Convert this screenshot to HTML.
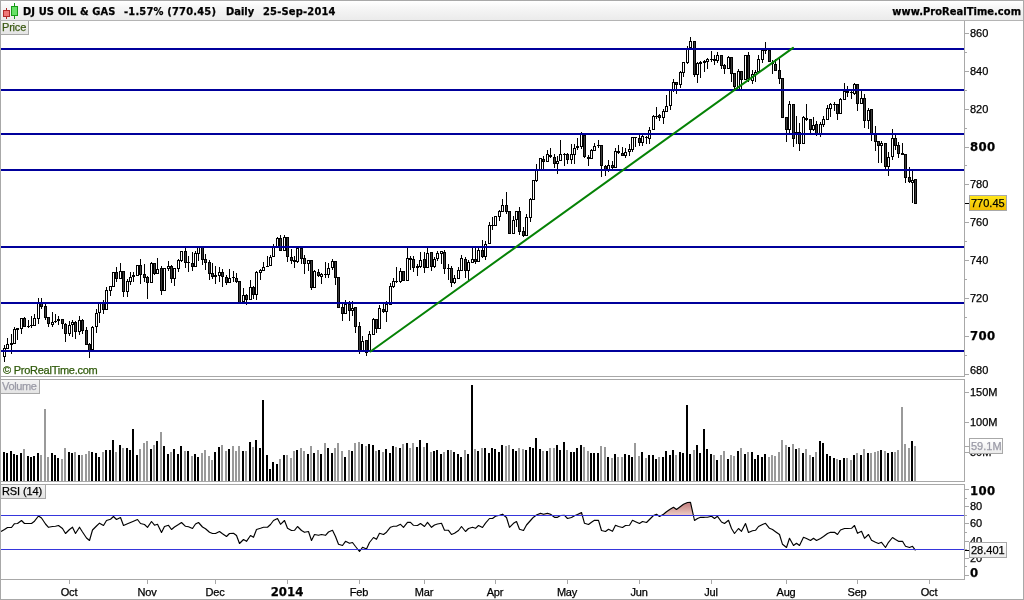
<!DOCTYPE html>
<html><head><meta charset="utf-8"><title>DJ US OIL &amp; GAS</title>
<style>
html,body{margin:0;padding:0;background:#fff;}
body{width:1024px;height:600px;position:relative;overflow:hidden;font-family:"Liberation Sans",sans-serif;font-size:11px;color:#000;-webkit-text-stroke:0.25px currentColor;}
#hdr{position:absolute;left:1px;top:1px;width:1022px;height:19px;background:linear-gradient(#ffffff,#f6f6f6 35%,#ebebeb);}
svg{position:absolute;left:0;top:0;}
.t{position:absolute;white-space:nowrap;line-height:14px;height:14px;}
.b{font-family:"DejaVu Sans Condensed","Liberation Sans",sans-serif;font-weight:bold;font-size:11px;}
.B{font-family:"DejaVu Sans Condensed","Liberation Sans",sans-serif;font-weight:bold;font-size:13px;letter-spacing:0.4px;line-height:16px;height:16px;}
.lab{position:absolute;background:linear-gradient(#f4f4f4,#e4e4e4);border-right:1px solid #a8a8a8;border-bottom:1px solid #a8a8a8;line-height:13px;padding-left:1px;box-sizing:content-box;white-space:nowrap;}
.box{position:absolute;border:1px solid #a8a8a8;line-height:14px;padding-left:1px;white-space:nowrap;}
</style></head><body>
<div id="hdr"></div>
<svg width="1024" height="600" viewBox="0 0 1024 600">
<g shape-rendering="crispEdges">
<rect x="4" y="345" width="1" height="17" fill="#000"/>
<rect x="3" y="348" width="3" height="9" fill="#000"/>
<rect x="4" y="349" width="1" height="7" fill="#fff"/>
<rect x="7" y="338" width="1" height="11" fill="#000"/>
<rect x="6" y="344" width="3" height="5" fill="#000"/>
<rect x="7" y="345" width="1" height="3" fill="#fff"/>
<rect x="11" y="334" width="1" height="20" fill="#000"/>
<rect x="10" y="343" width="3" height="2" fill="#000"/>
<rect x="14" y="327" width="1" height="17" fill="#000"/>
<rect x="13" y="329" width="3" height="15" fill="#000"/>
<rect x="14" y="330" width="1" height="13" fill="#fff"/>
<rect x="17" y="328" width="1" height="12" fill="#000"/>
<rect x="16" y="328" width="3" height="2" fill="#000"/>
<rect x="21" y="318" width="1" height="16" fill="#000"/>
<rect x="20" y="318" width="3" height="11" fill="#000"/>
<rect x="21" y="319" width="1" height="9" fill="#fff"/>
<rect x="24" y="317" width="1" height="10" fill="#000"/>
<rect x="23" y="318" width="3" height="9" fill="#000"/>
<rect x="24" y="319" width="1" height="7" fill="#3c3c3c"/>
<rect x="28" y="320" width="1" height="8" fill="#000"/>
<rect x="27" y="326" width="3" height="1" fill="#000"/>
<rect x="31" y="316" width="1" height="12" fill="#000"/>
<rect x="30" y="325" width="3" height="1" fill="#000"/>
<rect x="34" y="314" width="1" height="12" fill="#000"/>
<rect x="33" y="318" width="3" height="8" fill="#000"/>
<rect x="34" y="319" width="1" height="6" fill="#fff"/>
<rect x="38" y="298" width="1" height="26" fill="#000"/>
<rect x="37" y="302" width="3" height="17" fill="#000"/>
<rect x="38" y="303" width="1" height="15" fill="#fff"/>
<rect x="41" y="298" width="1" height="11" fill="#000"/>
<rect x="40" y="302" width="3" height="5" fill="#000"/>
<rect x="41" y="303" width="1" height="3" fill="#3c3c3c"/>
<rect x="45" y="304" width="1" height="16" fill="#000"/>
<rect x="44" y="306" width="3" height="12" fill="#000"/>
<rect x="45" y="307" width="1" height="10" fill="#3c3c3c"/>
<rect x="48" y="317" width="1" height="10" fill="#000"/>
<rect x="47" y="317" width="3" height="7" fill="#000"/>
<rect x="48" y="318" width="1" height="5" fill="#3c3c3c"/>
<rect x="52" y="312" width="1" height="15" fill="#000"/>
<rect x="51" y="322" width="3" height="3" fill="#000"/>
<rect x="52" y="323" width="1" height="1" fill="#fff"/>
<rect x="55" y="314" width="1" height="9" fill="#000"/>
<rect x="54" y="321" width="3" height="1" fill="#000"/>
<rect x="58" y="316" width="1" height="9" fill="#000"/>
<rect x="57" y="319" width="3" height="2" fill="#000"/>
<rect x="62" y="319" width="1" height="10" fill="#000"/>
<rect x="61" y="319" width="3" height="5" fill="#000"/>
<rect x="62" y="320" width="1" height="3" fill="#3c3c3c"/>
<rect x="65" y="323" width="1" height="19" fill="#000"/>
<rect x="64" y="324" width="3" height="10" fill="#000"/>
<rect x="65" y="325" width="1" height="8" fill="#3c3c3c"/>
<rect x="69" y="321" width="1" height="15" fill="#000"/>
<rect x="68" y="325" width="3" height="9" fill="#000"/>
<rect x="69" y="326" width="1" height="7" fill="#fff"/>
<rect x="72" y="320" width="1" height="17" fill="#000"/>
<rect x="71" y="322" width="3" height="3" fill="#000"/>
<rect x="72" y="323" width="1" height="1" fill="#fff"/>
<rect x="75" y="321" width="1" height="18" fill="#000"/>
<rect x="74" y="322" width="3" height="10" fill="#000"/>
<rect x="75" y="323" width="1" height="8" fill="#3c3c3c"/>
<rect x="79" y="316" width="1" height="19" fill="#000"/>
<rect x="78" y="320" width="3" height="12" fill="#000"/>
<rect x="79" y="321" width="1" height="10" fill="#fff"/>
<rect x="82" y="319" width="1" height="15" fill="#000"/>
<rect x="81" y="320" width="3" height="11" fill="#000"/>
<rect x="82" y="321" width="1" height="9" fill="#3c3c3c"/>
<rect x="86" y="327" width="1" height="18" fill="#000"/>
<rect x="85" y="330" width="3" height="15" fill="#000"/>
<rect x="86" y="331" width="1" height="13" fill="#3c3c3c"/>
<rect x="89" y="343" width="1" height="15" fill="#000"/>
<rect x="88" y="344" width="3" height="7" fill="#000"/>
<rect x="89" y="345" width="1" height="5" fill="#3c3c3c"/>
<rect x="92" y="326" width="1" height="24" fill="#000"/>
<rect x="91" y="327" width="3" height="23" fill="#000"/>
<rect x="92" y="328" width="1" height="21" fill="#fff"/>
<rect x="96" y="309" width="1" height="24" fill="#000"/>
<rect x="95" y="313" width="3" height="14" fill="#000"/>
<rect x="96" y="314" width="1" height="12" fill="#fff"/>
<rect x="99" y="302" width="1" height="21" fill="#000"/>
<rect x="98" y="302" width="3" height="11" fill="#000"/>
<rect x="99" y="303" width="1" height="9" fill="#fff"/>
<rect x="103" y="300" width="1" height="14" fill="#000"/>
<rect x="102" y="303" width="3" height="7" fill="#000"/>
<rect x="103" y="304" width="1" height="5" fill="#3c3c3c"/>
<rect x="106" y="287" width="1" height="23" fill="#000"/>
<rect x="105" y="290" width="3" height="20" fill="#000"/>
<rect x="106" y="291" width="1" height="18" fill="#fff"/>
<rect x="110" y="286" width="1" height="10" fill="#000"/>
<rect x="109" y="286" width="3" height="5" fill="#000"/>
<rect x="110" y="287" width="1" height="3" fill="#fff"/>
<rect x="113" y="272" width="1" height="15" fill="#000"/>
<rect x="112" y="272" width="3" height="15" fill="#000"/>
<rect x="113" y="273" width="1" height="13" fill="#fff"/>
<rect x="116" y="267" width="1" height="15" fill="#000"/>
<rect x="115" y="272" width="3" height="7" fill="#000"/>
<rect x="116" y="273" width="1" height="5" fill="#3c3c3c"/>
<rect x="120" y="263" width="1" height="16" fill="#000"/>
<rect x="119" y="271" width="3" height="8" fill="#000"/>
<rect x="120" y="272" width="1" height="6" fill="#fff"/>
<rect x="123" y="271" width="1" height="26" fill="#000"/>
<rect x="122" y="271" width="3" height="21" fill="#000"/>
<rect x="123" y="272" width="1" height="19" fill="#3c3c3c"/>
<rect x="127" y="279" width="1" height="18" fill="#000"/>
<rect x="126" y="281" width="3" height="11" fill="#000"/>
<rect x="127" y="282" width="1" height="9" fill="#fff"/>
<rect x="130" y="272" width="1" height="13" fill="#000"/>
<rect x="129" y="277" width="3" height="5" fill="#000"/>
<rect x="130" y="278" width="1" height="3" fill="#fff"/>
<rect x="133" y="272" width="1" height="10" fill="#000"/>
<rect x="132" y="275" width="3" height="2" fill="#000"/>
<rect x="137" y="265" width="1" height="11" fill="#000"/>
<rect x="136" y="265" width="3" height="11" fill="#000"/>
<rect x="137" y="266" width="1" height="9" fill="#fff"/>
<rect x="140" y="259" width="1" height="25" fill="#000"/>
<rect x="139" y="265" width="3" height="10" fill="#000"/>
<rect x="140" y="266" width="1" height="8" fill="#3c3c3c"/>
<rect x="144" y="264" width="1" height="18" fill="#000"/>
<rect x="143" y="274" width="3" height="4" fill="#000"/>
<rect x="144" y="275" width="1" height="2" fill="#3c3c3c"/>
<rect x="147" y="276" width="1" height="23" fill="#000"/>
<rect x="146" y="277" width="3" height="6" fill="#000"/>
<rect x="147" y="278" width="1" height="4" fill="#3c3c3c"/>
<rect x="151" y="262" width="1" height="21" fill="#000"/>
<rect x="150" y="263" width="3" height="20" fill="#000"/>
<rect x="151" y="264" width="1" height="18" fill="#fff"/>
<rect x="154" y="263" width="1" height="12" fill="#000"/>
<rect x="153" y="263" width="3" height="11" fill="#000"/>
<rect x="154" y="264" width="1" height="9" fill="#3c3c3c"/>
<rect x="157" y="258" width="1" height="16" fill="#000"/>
<rect x="156" y="269" width="3" height="5" fill="#000"/>
<rect x="157" y="270" width="1" height="3" fill="#fff"/>
<rect x="161" y="266" width="1" height="29" fill="#000"/>
<rect x="160" y="268" width="3" height="23" fill="#000"/>
<rect x="161" y="269" width="1" height="21" fill="#3c3c3c"/>
<rect x="164" y="268" width="1" height="23" fill="#000"/>
<rect x="163" y="268" width="3" height="23" fill="#000"/>
<rect x="164" y="269" width="1" height="21" fill="#fff"/>
<rect x="168" y="261" width="1" height="10" fill="#000"/>
<rect x="167" y="266" width="3" height="3" fill="#000"/>
<rect x="168" y="267" width="1" height="1" fill="#fff"/>
<rect x="171" y="265" width="1" height="18" fill="#000"/>
<rect x="170" y="266" width="3" height="13" fill="#000"/>
<rect x="171" y="267" width="1" height="11" fill="#3c3c3c"/>
<rect x="174" y="268" width="1" height="18" fill="#000"/>
<rect x="173" y="268" width="3" height="11" fill="#000"/>
<rect x="174" y="269" width="1" height="9" fill="#fff"/>
<rect x="178" y="259" width="1" height="13" fill="#000"/>
<rect x="177" y="260" width="3" height="9" fill="#000"/>
<rect x="178" y="261" width="1" height="7" fill="#fff"/>
<rect x="181" y="251" width="1" height="11" fill="#000"/>
<rect x="180" y="251" width="3" height="10" fill="#000"/>
<rect x="181" y="252" width="1" height="8" fill="#fff"/>
<rect x="185" y="248" width="1" height="20" fill="#000"/>
<rect x="184" y="251" width="3" height="12" fill="#000"/>
<rect x="185" y="252" width="1" height="10" fill="#3c3c3c"/>
<rect x="188" y="256" width="1" height="16" fill="#000"/>
<rect x="187" y="262" width="3" height="1" fill="#000"/>
<rect x="192" y="252" width="1" height="19" fill="#000"/>
<rect x="191" y="263" width="3" height="4" fill="#000"/>
<rect x="192" y="264" width="1" height="2" fill="#3c3c3c"/>
<rect x="195" y="251" width="1" height="16" fill="#000"/>
<rect x="194" y="253" width="3" height="14" fill="#000"/>
<rect x="195" y="254" width="1" height="12" fill="#fff"/>
<rect x="198" y="246" width="1" height="15" fill="#000"/>
<rect x="197" y="247" width="3" height="7" fill="#000"/>
<rect x="198" y="248" width="1" height="5" fill="#fff"/>
<rect x="202" y="246" width="1" height="19" fill="#000"/>
<rect x="201" y="247" width="3" height="13" fill="#000"/>
<rect x="202" y="248" width="1" height="11" fill="#3c3c3c"/>
<rect x="205" y="254" width="1" height="16" fill="#000"/>
<rect x="204" y="259" width="3" height="4" fill="#000"/>
<rect x="205" y="260" width="1" height="2" fill="#3c3c3c"/>
<rect x="209" y="260" width="1" height="20" fill="#000"/>
<rect x="208" y="262" width="3" height="12" fill="#000"/>
<rect x="209" y="263" width="1" height="10" fill="#3c3c3c"/>
<rect x="212" y="263" width="1" height="16" fill="#000"/>
<rect x="211" y="273" width="3" height="4" fill="#000"/>
<rect x="212" y="274" width="1" height="2" fill="#3c3c3c"/>
<rect x="215" y="266" width="1" height="18" fill="#000"/>
<rect x="214" y="275" width="3" height="2" fill="#000"/>
<rect x="219" y="267" width="1" height="15" fill="#000"/>
<rect x="218" y="272" width="3" height="4" fill="#000"/>
<rect x="219" y="273" width="1" height="2" fill="#fff"/>
<rect x="222" y="269" width="1" height="18" fill="#000"/>
<rect x="221" y="272" width="3" height="5" fill="#000"/>
<rect x="222" y="273" width="1" height="3" fill="#3c3c3c"/>
<rect x="226" y="275" width="1" height="10" fill="#000"/>
<rect x="225" y="277" width="3" height="6" fill="#000"/>
<rect x="226" y="278" width="1" height="4" fill="#3c3c3c"/>
<rect x="229" y="269" width="1" height="14" fill="#000"/>
<rect x="228" y="278" width="3" height="5" fill="#000"/>
<rect x="229" y="279" width="1" height="3" fill="#fff"/>
<rect x="233" y="271" width="1" height="11" fill="#000"/>
<rect x="232" y="277" width="3" height="1" fill="#000"/>
<rect x="236" y="273" width="1" height="10" fill="#000"/>
<rect x="235" y="278" width="3" height="4" fill="#000"/>
<rect x="236" y="279" width="1" height="2" fill="#3c3c3c"/>
<rect x="239" y="281" width="1" height="22" fill="#000"/>
<rect x="238" y="281" width="3" height="22" fill="#000"/>
<rect x="239" y="282" width="1" height="20" fill="#3c3c3c"/>
<rect x="243" y="288" width="1" height="14" fill="#000"/>
<rect x="242" y="295" width="3" height="7" fill="#000"/>
<rect x="243" y="296" width="1" height="5" fill="#fff"/>
<rect x="246" y="294" width="1" height="11" fill="#000"/>
<rect x="245" y="295" width="3" height="5" fill="#000"/>
<rect x="246" y="296" width="1" height="3" fill="#3c3c3c"/>
<rect x="250" y="280" width="1" height="20" fill="#000"/>
<rect x="249" y="287" width="3" height="13" fill="#000"/>
<rect x="250" y="288" width="1" height="11" fill="#fff"/>
<rect x="253" y="286" width="1" height="13" fill="#000"/>
<rect x="252" y="287" width="3" height="8" fill="#000"/>
<rect x="253" y="288" width="1" height="6" fill="#3c3c3c"/>
<rect x="256" y="271" width="1" height="29" fill="#000"/>
<rect x="255" y="272" width="3" height="23" fill="#000"/>
<rect x="256" y="273" width="1" height="21" fill="#fff"/>
<rect x="260" y="269" width="1" height="11" fill="#000"/>
<rect x="259" y="270" width="3" height="3" fill="#000"/>
<rect x="260" y="271" width="1" height="1" fill="#fff"/>
<rect x="263" y="262" width="1" height="9" fill="#000"/>
<rect x="262" y="267" width="3" height="4" fill="#000"/>
<rect x="263" y="268" width="1" height="2" fill="#fff"/>
<rect x="267" y="256" width="1" height="11" fill="#000"/>
<rect x="266" y="266" width="3" height="1" fill="#000"/>
<rect x="270" y="255" width="1" height="11" fill="#000"/>
<rect x="269" y="257" width="3" height="9" fill="#000"/>
<rect x="270" y="258" width="1" height="7" fill="#fff"/>
<rect x="273" y="244" width="1" height="13" fill="#000"/>
<rect x="272" y="246" width="3" height="11" fill="#000"/>
<rect x="273" y="247" width="1" height="9" fill="#fff"/>
<rect x="277" y="237" width="1" height="11" fill="#000"/>
<rect x="276" y="238" width="3" height="10" fill="#000"/>
<rect x="277" y="239" width="1" height="8" fill="#fff"/>
<rect x="280" y="235" width="1" height="16" fill="#000"/>
<rect x="279" y="238" width="3" height="13" fill="#000"/>
<rect x="280" y="239" width="1" height="11" fill="#3c3c3c"/>
<rect x="284" y="235" width="1" height="16" fill="#000"/>
<rect x="283" y="237" width="3" height="14" fill="#000"/>
<rect x="284" y="238" width="1" height="12" fill="#fff"/>
<rect x="287" y="237" width="1" height="25" fill="#000"/>
<rect x="286" y="237" width="3" height="20" fill="#000"/>
<rect x="287" y="238" width="1" height="18" fill="#3c3c3c"/>
<rect x="291" y="249" width="1" height="15" fill="#000"/>
<rect x="290" y="257" width="3" height="4" fill="#000"/>
<rect x="291" y="258" width="1" height="2" fill="#3c3c3c"/>
<rect x="294" y="256" width="1" height="12" fill="#000"/>
<rect x="293" y="260" width="3" height="2" fill="#000"/>
<rect x="297" y="248" width="1" height="15" fill="#000"/>
<rect x="296" y="248" width="3" height="14" fill="#000"/>
<rect x="297" y="249" width="1" height="12" fill="#fff"/>
<rect x="301" y="248" width="1" height="16" fill="#000"/>
<rect x="300" y="248" width="3" height="11" fill="#000"/>
<rect x="301" y="249" width="1" height="9" fill="#3c3c3c"/>
<rect x="304" y="255" width="1" height="19" fill="#000"/>
<rect x="303" y="258" width="3" height="6" fill="#000"/>
<rect x="304" y="259" width="1" height="4" fill="#3c3c3c"/>
<rect x="308" y="260" width="1" height="11" fill="#000"/>
<rect x="307" y="260" width="3" height="4" fill="#000"/>
<rect x="308" y="261" width="1" height="2" fill="#fff"/>
<rect x="311" y="260" width="1" height="30" fill="#000"/>
<rect x="310" y="260" width="3" height="28" fill="#000"/>
<rect x="311" y="261" width="1" height="26" fill="#3c3c3c"/>
<rect x="314" y="270" width="1" height="18" fill="#000"/>
<rect x="313" y="271" width="3" height="17" fill="#000"/>
<rect x="314" y="272" width="1" height="15" fill="#fff"/>
<rect x="318" y="269" width="1" height="8" fill="#000"/>
<rect x="317" y="272" width="3" height="4" fill="#000"/>
<rect x="318" y="273" width="1" height="2" fill="#3c3c3c"/>
<rect x="321" y="273" width="1" height="11" fill="#000"/>
<rect x="320" y="274" width="3" height="3" fill="#000"/>
<rect x="321" y="275" width="1" height="1" fill="#fff"/>
<rect x="325" y="262" width="1" height="16" fill="#000"/>
<rect x="324" y="274" width="3" height="1" fill="#000"/>
<rect x="328" y="263" width="1" height="15" fill="#000"/>
<rect x="327" y="268" width="3" height="7" fill="#000"/>
<rect x="328" y="269" width="1" height="5" fill="#fff"/>
<rect x="332" y="259" width="1" height="11" fill="#000"/>
<rect x="331" y="261" width="3" height="7" fill="#000"/>
<rect x="332" y="262" width="1" height="5" fill="#fff"/>
<rect x="335" y="261" width="1" height="24" fill="#000"/>
<rect x="334" y="261" width="3" height="17" fill="#000"/>
<rect x="335" y="262" width="1" height="15" fill="#3c3c3c"/>
<rect x="338" y="277" width="1" height="31" fill="#000"/>
<rect x="337" y="277" width="3" height="31" fill="#000"/>
<rect x="338" y="278" width="1" height="29" fill="#3c3c3c"/>
<rect x="342" y="303" width="1" height="18" fill="#000"/>
<rect x="341" y="307" width="3" height="7" fill="#000"/>
<rect x="342" y="308" width="1" height="5" fill="#3c3c3c"/>
<rect x="345" y="300" width="1" height="14" fill="#000"/>
<rect x="344" y="304" width="3" height="10" fill="#000"/>
<rect x="345" y="305" width="1" height="8" fill="#fff"/>
<rect x="349" y="301" width="1" height="20" fill="#000"/>
<rect x="348" y="304" width="3" height="7" fill="#000"/>
<rect x="349" y="305" width="1" height="5" fill="#3c3c3c"/>
<rect x="352" y="301" width="1" height="15" fill="#000"/>
<rect x="351" y="308" width="3" height="3" fill="#000"/>
<rect x="352" y="309" width="1" height="1" fill="#fff"/>
<rect x="355" y="307" width="1" height="26" fill="#000"/>
<rect x="354" y="307" width="3" height="20" fill="#000"/>
<rect x="355" y="308" width="1" height="18" fill="#3c3c3c"/>
<rect x="359" y="322" width="1" height="32" fill="#000"/>
<rect x="358" y="326" width="3" height="25" fill="#000"/>
<rect x="359" y="327" width="1" height="23" fill="#3c3c3c"/>
<rect x="362" y="336" width="1" height="15" fill="#000"/>
<rect x="361" y="341" width="3" height="10" fill="#000"/>
<rect x="362" y="342" width="1" height="8" fill="#fff"/>
<rect x="366" y="340" width="1" height="16" fill="#000"/>
<rect x="365" y="340" width="3" height="13" fill="#000"/>
<rect x="366" y="341" width="1" height="11" fill="#3c3c3c"/>
<rect x="369" y="331" width="1" height="21" fill="#000"/>
<rect x="368" y="334" width="3" height="18" fill="#000"/>
<rect x="369" y="335" width="1" height="16" fill="#fff"/>
<rect x="373" y="318" width="1" height="17" fill="#000"/>
<rect x="372" y="319" width="3" height="16" fill="#000"/>
<rect x="373" y="320" width="1" height="14" fill="#fff"/>
<rect x="376" y="319" width="1" height="14" fill="#000"/>
<rect x="375" y="319" width="3" height="10" fill="#000"/>
<rect x="376" y="320" width="1" height="8" fill="#3c3c3c"/>
<rect x="379" y="305" width="1" height="24" fill="#000"/>
<rect x="378" y="308" width="3" height="21" fill="#000"/>
<rect x="379" y="309" width="1" height="19" fill="#fff"/>
<rect x="383" y="304" width="1" height="9" fill="#000"/>
<rect x="382" y="309" width="3" height="3" fill="#000"/>
<rect x="383" y="310" width="1" height="1" fill="#3c3c3c"/>
<rect x="386" y="301" width="1" height="21" fill="#000"/>
<rect x="385" y="304" width="3" height="8" fill="#000"/>
<rect x="386" y="305" width="1" height="6" fill="#fff"/>
<rect x="390" y="283" width="1" height="22" fill="#000"/>
<rect x="389" y="286" width="3" height="19" fill="#000"/>
<rect x="390" y="287" width="1" height="17" fill="#fff"/>
<rect x="393" y="278" width="1" height="10" fill="#000"/>
<rect x="392" y="281" width="3" height="6" fill="#000"/>
<rect x="393" y="282" width="1" height="4" fill="#fff"/>
<rect x="396" y="267" width="1" height="16" fill="#000"/>
<rect x="395" y="281" width="3" height="1" fill="#000"/>
<rect x="400" y="268" width="1" height="15" fill="#000"/>
<rect x="399" y="271" width="3" height="11" fill="#000"/>
<rect x="400" y="272" width="1" height="9" fill="#fff"/>
<rect x="403" y="271" width="1" height="10" fill="#000"/>
<rect x="402" y="271" width="3" height="10" fill="#000"/>
<rect x="403" y="272" width="1" height="8" fill="#3c3c3c"/>
<rect x="407" y="246" width="1" height="35" fill="#000"/>
<rect x="406" y="258" width="3" height="23" fill="#000"/>
<rect x="407" y="259" width="1" height="21" fill="#fff"/>
<rect x="410" y="256" width="1" height="14" fill="#000"/>
<rect x="409" y="258" width="3" height="2" fill="#000"/>
<rect x="413" y="256" width="1" height="16" fill="#000"/>
<rect x="412" y="259" width="3" height="9" fill="#000"/>
<rect x="413" y="260" width="1" height="7" fill="#3c3c3c"/>
<rect x="417" y="264" width="1" height="12" fill="#000"/>
<rect x="416" y="266" width="3" height="2" fill="#000"/>
<rect x="420" y="252" width="1" height="16" fill="#000"/>
<rect x="419" y="260" width="3" height="7" fill="#000"/>
<rect x="420" y="261" width="1" height="5" fill="#fff"/>
<rect x="424" y="252" width="1" height="21" fill="#000"/>
<rect x="423" y="259" width="3" height="9" fill="#000"/>
<rect x="424" y="260" width="1" height="7" fill="#3c3c3c"/>
<rect x="427" y="246" width="1" height="22" fill="#000"/>
<rect x="426" y="253" width="3" height="15" fill="#000"/>
<rect x="427" y="254" width="1" height="13" fill="#fff"/>
<rect x="431" y="252" width="1" height="19" fill="#000"/>
<rect x="430" y="252" width="3" height="15" fill="#000"/>
<rect x="431" y="253" width="1" height="13" fill="#3c3c3c"/>
<rect x="434" y="257" width="1" height="11" fill="#000"/>
<rect x="433" y="259" width="3" height="8" fill="#000"/>
<rect x="434" y="260" width="1" height="6" fill="#fff"/>
<rect x="437" y="251" width="1" height="10" fill="#000"/>
<rect x="436" y="253" width="3" height="6" fill="#000"/>
<rect x="437" y="254" width="1" height="4" fill="#fff"/>
<rect x="441" y="251" width="1" height="13" fill="#000"/>
<rect x="440" y="251" width="3" height="3" fill="#000"/>
<rect x="441" y="252" width="1" height="1" fill="#fff"/>
<rect x="444" y="250" width="1" height="24" fill="#000"/>
<rect x="443" y="252" width="3" height="17" fill="#000"/>
<rect x="444" y="253" width="1" height="15" fill="#3c3c3c"/>
<rect x="448" y="264" width="1" height="16" fill="#000"/>
<rect x="447" y="268" width="3" height="1" fill="#000"/>
<rect x="451" y="266" width="1" height="21" fill="#000"/>
<rect x="450" y="268" width="3" height="15" fill="#000"/>
<rect x="451" y="269" width="1" height="13" fill="#3c3c3c"/>
<rect x="454" y="275" width="1" height="9" fill="#000"/>
<rect x="453" y="278" width="3" height="5" fill="#000"/>
<rect x="454" y="279" width="1" height="3" fill="#fff"/>
<rect x="458" y="267" width="1" height="12" fill="#000"/>
<rect x="457" y="270" width="3" height="9" fill="#000"/>
<rect x="458" y="271" width="1" height="7" fill="#fff"/>
<rect x="461" y="255" width="1" height="16" fill="#000"/>
<rect x="460" y="258" width="3" height="13" fill="#000"/>
<rect x="461" y="259" width="1" height="11" fill="#fff"/>
<rect x="465" y="257" width="1" height="21" fill="#000"/>
<rect x="464" y="259" width="3" height="12" fill="#000"/>
<rect x="465" y="260" width="1" height="10" fill="#3c3c3c"/>
<rect x="468" y="260" width="1" height="20" fill="#000"/>
<rect x="467" y="262" width="3" height="9" fill="#000"/>
<rect x="468" y="263" width="1" height="7" fill="#fff"/>
<rect x="472" y="248" width="1" height="15" fill="#000"/>
<rect x="471" y="259" width="3" height="4" fill="#000"/>
<rect x="472" y="260" width="1" height="2" fill="#fff"/>
<rect x="475" y="248" width="1" height="16" fill="#000"/>
<rect x="474" y="259" width="3" height="3" fill="#000"/>
<rect x="475" y="260" width="1" height="1" fill="#3c3c3c"/>
<rect x="478" y="248" width="1" height="14" fill="#000"/>
<rect x="477" y="250" width="3" height="12" fill="#000"/>
<rect x="478" y="251" width="1" height="10" fill="#fff"/>
<rect x="482" y="240" width="1" height="18" fill="#000"/>
<rect x="481" y="250" width="3" height="7" fill="#000"/>
<rect x="482" y="251" width="1" height="5" fill="#3c3c3c"/>
<rect x="485" y="241" width="1" height="19" fill="#000"/>
<rect x="484" y="244" width="3" height="13" fill="#000"/>
<rect x="485" y="245" width="1" height="11" fill="#fff"/>
<rect x="489" y="222" width="1" height="22" fill="#000"/>
<rect x="488" y="225" width="3" height="19" fill="#000"/>
<rect x="489" y="226" width="1" height="17" fill="#fff"/>
<rect x="492" y="217" width="1" height="13" fill="#000"/>
<rect x="491" y="225" width="3" height="1" fill="#000"/>
<rect x="495" y="216" width="1" height="10" fill="#000"/>
<rect x="494" y="216" width="3" height="10" fill="#000"/>
<rect x="495" y="217" width="1" height="8" fill="#fff"/>
<rect x="499" y="210" width="1" height="11" fill="#000"/>
<rect x="498" y="211" width="3" height="6" fill="#000"/>
<rect x="499" y="212" width="1" height="4" fill="#fff"/>
<rect x="502" y="199" width="1" height="13" fill="#000"/>
<rect x="501" y="205" width="3" height="7" fill="#000"/>
<rect x="502" y="206" width="1" height="5" fill="#fff"/>
<rect x="506" y="192" width="1" height="22" fill="#000"/>
<rect x="505" y="205" width="3" height="7" fill="#000"/>
<rect x="506" y="206" width="1" height="5" fill="#3c3c3c"/>
<rect x="509" y="211" width="1" height="23" fill="#000"/>
<rect x="508" y="211" width="3" height="23" fill="#000"/>
<rect x="509" y="212" width="1" height="21" fill="#3c3c3c"/>
<rect x="513" y="216" width="1" height="18" fill="#000"/>
<rect x="512" y="220" width="3" height="14" fill="#000"/>
<rect x="513" y="221" width="1" height="12" fill="#fff"/>
<rect x="516" y="211" width="1" height="16" fill="#000"/>
<rect x="515" y="211" width="3" height="9" fill="#000"/>
<rect x="516" y="212" width="1" height="7" fill="#fff"/>
<rect x="519" y="207" width="1" height="28" fill="#000"/>
<rect x="518" y="211" width="3" height="21" fill="#000"/>
<rect x="519" y="212" width="1" height="19" fill="#3c3c3c"/>
<rect x="523" y="227" width="1" height="10" fill="#000"/>
<rect x="522" y="231" width="3" height="5" fill="#000"/>
<rect x="523" y="232" width="1" height="3" fill="#3c3c3c"/>
<rect x="526" y="214" width="1" height="22" fill="#000"/>
<rect x="525" y="217" width="3" height="19" fill="#000"/>
<rect x="526" y="218" width="1" height="17" fill="#fff"/>
<rect x="530" y="198" width="1" height="24" fill="#000"/>
<rect x="529" y="199" width="3" height="19" fill="#000"/>
<rect x="530" y="200" width="1" height="17" fill="#fff"/>
<rect x="533" y="180" width="1" height="20" fill="#000"/>
<rect x="532" y="180" width="3" height="20" fill="#000"/>
<rect x="533" y="181" width="1" height="18" fill="#fff"/>
<rect x="536" y="164" width="1" height="18" fill="#000"/>
<rect x="535" y="169" width="3" height="12" fill="#000"/>
<rect x="536" y="170" width="1" height="10" fill="#fff"/>
<rect x="540" y="158" width="1" height="12" fill="#000"/>
<rect x="539" y="158" width="3" height="12" fill="#000"/>
<rect x="540" y="159" width="1" height="10" fill="#fff"/>
<rect x="543" y="156" width="1" height="13" fill="#000"/>
<rect x="542" y="159" width="3" height="3" fill="#000"/>
<rect x="543" y="160" width="1" height="1" fill="#3c3c3c"/>
<rect x="547" y="150" width="1" height="12" fill="#000"/>
<rect x="546" y="154" width="3" height="8" fill="#000"/>
<rect x="547" y="155" width="1" height="6" fill="#fff"/>
<rect x="550" y="148" width="1" height="10" fill="#000"/>
<rect x="549" y="155" width="3" height="2" fill="#000"/>
<rect x="554" y="154" width="1" height="14" fill="#000"/>
<rect x="553" y="157" width="3" height="7" fill="#000"/>
<rect x="554" y="158" width="1" height="5" fill="#3c3c3c"/>
<rect x="557" y="156" width="1" height="18" fill="#000"/>
<rect x="556" y="161" width="3" height="3" fill="#000"/>
<rect x="557" y="162" width="1" height="1" fill="#fff"/>
<rect x="560" y="140" width="1" height="21" fill="#000"/>
<rect x="559" y="154" width="3" height="7" fill="#000"/>
<rect x="560" y="155" width="1" height="5" fill="#fff"/>
<rect x="564" y="153" width="1" height="13" fill="#000"/>
<rect x="563" y="154" width="3" height="1" fill="#000"/>
<rect x="567" y="153" width="1" height="11" fill="#000"/>
<rect x="566" y="154" width="3" height="6" fill="#000"/>
<rect x="567" y="155" width="1" height="4" fill="#3c3c3c"/>
<rect x="571" y="144" width="1" height="20" fill="#000"/>
<rect x="570" y="154" width="3" height="6" fill="#000"/>
<rect x="571" y="155" width="1" height="4" fill="#fff"/>
<rect x="574" y="144" width="1" height="20" fill="#000"/>
<rect x="573" y="148" width="3" height="7" fill="#000"/>
<rect x="574" y="149" width="1" height="5" fill="#fff"/>
<rect x="577" y="138" width="1" height="12" fill="#000"/>
<rect x="576" y="146" width="3" height="2" fill="#000"/>
<rect x="581" y="132" width="1" height="17" fill="#000"/>
<rect x="580" y="133" width="3" height="14" fill="#000"/>
<rect x="581" y="134" width="1" height="12" fill="#fff"/>
<rect x="584" y="134" width="1" height="24" fill="#000"/>
<rect x="583" y="135" width="3" height="22" fill="#000"/>
<rect x="584" y="136" width="1" height="20" fill="#3c3c3c"/>
<rect x="588" y="155" width="1" height="11" fill="#000"/>
<rect x="587" y="157" width="3" height="2" fill="#000"/>
<rect x="591" y="149" width="1" height="10" fill="#000"/>
<rect x="590" y="150" width="3" height="9" fill="#000"/>
<rect x="591" y="151" width="1" height="7" fill="#fff"/>
<rect x="594" y="143" width="1" height="8" fill="#000"/>
<rect x="593" y="146" width="3" height="5" fill="#000"/>
<rect x="594" y="147" width="1" height="3" fill="#fff"/>
<rect x="598" y="140" width="1" height="8" fill="#000"/>
<rect x="597" y="145" width="3" height="1" fill="#000"/>
<rect x="601" y="145" width="1" height="32" fill="#000"/>
<rect x="600" y="145" width="3" height="21" fill="#000"/>
<rect x="601" y="146" width="1" height="19" fill="#3c3c3c"/>
<rect x="605" y="165" width="1" height="11" fill="#000"/>
<rect x="604" y="166" width="3" height="4" fill="#000"/>
<rect x="605" y="167" width="1" height="2" fill="#3c3c3c"/>
<rect x="608" y="160" width="1" height="12" fill="#000"/>
<rect x="607" y="165" width="3" height="5" fill="#000"/>
<rect x="608" y="166" width="1" height="3" fill="#fff"/>
<rect x="612" y="161" width="1" height="8" fill="#000"/>
<rect x="611" y="165" width="3" height="3" fill="#000"/>
<rect x="612" y="166" width="1" height="1" fill="#3c3c3c"/>
<rect x="615" y="148" width="1" height="20" fill="#000"/>
<rect x="614" y="151" width="3" height="17" fill="#000"/>
<rect x="615" y="152" width="1" height="15" fill="#fff"/>
<rect x="618" y="145" width="1" height="9" fill="#000"/>
<rect x="617" y="151" width="3" height="2" fill="#000"/>
<rect x="622" y="147" width="1" height="9" fill="#000"/>
<rect x="621" y="153" width="3" height="3" fill="#000"/>
<rect x="622" y="154" width="1" height="1" fill="#3c3c3c"/>
<rect x="625" y="148" width="1" height="10" fill="#000"/>
<rect x="624" y="152" width="3" height="4" fill="#000"/>
<rect x="625" y="153" width="1" height="2" fill="#fff"/>
<rect x="629" y="144" width="1" height="12" fill="#000"/>
<rect x="628" y="149" width="3" height="3" fill="#000"/>
<rect x="629" y="150" width="1" height="1" fill="#fff"/>
<rect x="632" y="137" width="1" height="15" fill="#000"/>
<rect x="631" y="137" width="3" height="13" fill="#000"/>
<rect x="632" y="138" width="1" height="11" fill="#fff"/>
<rect x="635" y="137" width="1" height="10" fill="#000"/>
<rect x="634" y="137" width="3" height="1" fill="#000"/>
<rect x="639" y="135" width="1" height="11" fill="#000"/>
<rect x="638" y="138" width="3" height="5" fill="#000"/>
<rect x="639" y="139" width="1" height="3" fill="#3c3c3c"/>
<rect x="642" y="135" width="1" height="11" fill="#000"/>
<rect x="641" y="136" width="3" height="7" fill="#000"/>
<rect x="642" y="137" width="1" height="5" fill="#fff"/>
<rect x="646" y="136" width="1" height="8" fill="#000"/>
<rect x="645" y="137" width="3" height="1" fill="#000"/>
<rect x="649" y="127" width="1" height="17" fill="#000"/>
<rect x="648" y="130" width="3" height="9" fill="#000"/>
<rect x="649" y="131" width="1" height="7" fill="#fff"/>
<rect x="653" y="115" width="1" height="15" fill="#000"/>
<rect x="652" y="116" width="3" height="14" fill="#000"/>
<rect x="653" y="117" width="1" height="12" fill="#fff"/>
<rect x="656" y="107" width="1" height="12" fill="#000"/>
<rect x="655" y="116" width="3" height="1" fill="#000"/>
<rect x="659" y="114" width="1" height="7" fill="#000"/>
<rect x="658" y="115" width="3" height="3" fill="#000"/>
<rect x="659" y="116" width="1" height="1" fill="#3c3c3c"/>
<rect x="663" y="109" width="1" height="15" fill="#000"/>
<rect x="662" y="111" width="3" height="7" fill="#000"/>
<rect x="663" y="112" width="1" height="5" fill="#fff"/>
<rect x="666" y="95" width="1" height="17" fill="#000"/>
<rect x="665" y="106" width="3" height="6" fill="#000"/>
<rect x="666" y="107" width="1" height="4" fill="#fff"/>
<rect x="670" y="90" width="1" height="20" fill="#000"/>
<rect x="669" y="90" width="3" height="16" fill="#000"/>
<rect x="670" y="91" width="1" height="14" fill="#fff"/>
<rect x="673" y="79" width="1" height="13" fill="#000"/>
<rect x="672" y="82" width="3" height="9" fill="#000"/>
<rect x="673" y="83" width="1" height="7" fill="#fff"/>
<rect x="676" y="82" width="1" height="12" fill="#000"/>
<rect x="675" y="82" width="3" height="3" fill="#000"/>
<rect x="676" y="83" width="1" height="1" fill="#3c3c3c"/>
<rect x="680" y="71" width="1" height="17" fill="#000"/>
<rect x="679" y="72" width="3" height="13" fill="#000"/>
<rect x="680" y="73" width="1" height="11" fill="#fff"/>
<rect x="683" y="62" width="1" height="15" fill="#000"/>
<rect x="682" y="62" width="3" height="11" fill="#000"/>
<rect x="683" y="63" width="1" height="9" fill="#fff"/>
<rect x="687" y="46" width="1" height="18" fill="#000"/>
<rect x="686" y="48" width="3" height="15" fill="#000"/>
<rect x="687" y="49" width="1" height="13" fill="#fff"/>
<rect x="690" y="37" width="1" height="11" fill="#000"/>
<rect x="689" y="41" width="3" height="7" fill="#000"/>
<rect x="690" y="42" width="1" height="5" fill="#fff"/>
<rect x="694" y="41" width="1" height="36" fill="#000"/>
<rect x="693" y="41" width="3" height="34" fill="#000"/>
<rect x="694" y="42" width="1" height="32" fill="#3c3c3c"/>
<rect x="697" y="62" width="1" height="21" fill="#000"/>
<rect x="696" y="63" width="3" height="12" fill="#000"/>
<rect x="697" y="64" width="1" height="10" fill="#fff"/>
<rect x="700" y="61" width="1" height="17" fill="#000"/>
<rect x="699" y="62" width="3" height="2" fill="#000"/>
<rect x="704" y="60" width="1" height="12" fill="#000"/>
<rect x="703" y="61" width="3" height="2" fill="#000"/>
<rect x="707" y="58" width="1" height="11" fill="#000"/>
<rect x="706" y="59" width="3" height="3" fill="#000"/>
<rect x="707" y="60" width="1" height="1" fill="#fff"/>
<rect x="711" y="51" width="1" height="11" fill="#000"/>
<rect x="710" y="59" width="3" height="1" fill="#000"/>
<rect x="714" y="55" width="1" height="10" fill="#000"/>
<rect x="713" y="59" width="3" height="2" fill="#000"/>
<rect x="717" y="52" width="1" height="11" fill="#000"/>
<rect x="716" y="55" width="3" height="6" fill="#000"/>
<rect x="717" y="56" width="1" height="4" fill="#fff"/>
<rect x="721" y="55" width="1" height="14" fill="#000"/>
<rect x="720" y="55" width="3" height="11" fill="#000"/>
<rect x="721" y="56" width="1" height="9" fill="#3c3c3c"/>
<rect x="724" y="64" width="1" height="10" fill="#000"/>
<rect x="723" y="65" width="3" height="4" fill="#000"/>
<rect x="724" y="66" width="1" height="2" fill="#3c3c3c"/>
<rect x="728" y="56" width="1" height="13" fill="#000"/>
<rect x="727" y="57" width="3" height="12" fill="#000"/>
<rect x="728" y="58" width="1" height="10" fill="#fff"/>
<rect x="731" y="57" width="1" height="25" fill="#000"/>
<rect x="730" y="57" width="3" height="17" fill="#000"/>
<rect x="731" y="58" width="1" height="15" fill="#3c3c3c"/>
<rect x="734" y="73" width="1" height="16" fill="#000"/>
<rect x="733" y="73" width="3" height="14" fill="#000"/>
<rect x="734" y="74" width="1" height="12" fill="#3c3c3c"/>
<rect x="738" y="69" width="1" height="21" fill="#000"/>
<rect x="737" y="71" width="3" height="19" fill="#000"/>
<rect x="738" y="72" width="1" height="17" fill="#fff"/>
<rect x="741" y="71" width="1" height="18" fill="#000"/>
<rect x="740" y="71" width="3" height="9" fill="#000"/>
<rect x="741" y="72" width="1" height="7" fill="#3c3c3c"/>
<rect x="745" y="55" width="1" height="25" fill="#000"/>
<rect x="744" y="55" width="3" height="25" fill="#000"/>
<rect x="745" y="56" width="1" height="23" fill="#fff"/>
<rect x="748" y="52" width="1" height="30" fill="#000"/>
<rect x="747" y="55" width="3" height="24" fill="#000"/>
<rect x="748" y="56" width="1" height="22" fill="#3c3c3c"/>
<rect x="752" y="70" width="1" height="14" fill="#000"/>
<rect x="751" y="74" width="3" height="7" fill="#000"/>
<rect x="752" y="75" width="1" height="5" fill="#fff"/>
<rect x="755" y="70" width="1" height="12" fill="#000"/>
<rect x="754" y="72" width="3" height="3" fill="#000"/>
<rect x="755" y="73" width="1" height="1" fill="#fff"/>
<rect x="758" y="55" width="1" height="17" fill="#000"/>
<rect x="757" y="59" width="3" height="13" fill="#000"/>
<rect x="758" y="60" width="1" height="11" fill="#fff"/>
<rect x="762" y="50" width="1" height="13" fill="#000"/>
<rect x="761" y="50" width="3" height="10" fill="#000"/>
<rect x="762" y="51" width="1" height="8" fill="#fff"/>
<rect x="765" y="42" width="1" height="12" fill="#000"/>
<rect x="764" y="49" width="3" height="2" fill="#000"/>
<rect x="769" y="50" width="1" height="12" fill="#000"/>
<rect x="768" y="50" width="3" height="12" fill="#000"/>
<rect x="769" y="51" width="1" height="10" fill="#3c3c3c"/>
<rect x="772" y="60" width="1" height="14" fill="#000"/>
<rect x="771" y="63" width="3" height="1" fill="#000"/>
<rect x="775" y="59" width="1" height="12" fill="#000"/>
<rect x="774" y="64" width="3" height="7" fill="#000"/>
<rect x="775" y="65" width="1" height="5" fill="#3c3c3c"/>
<rect x="779" y="58" width="1" height="26" fill="#000"/>
<rect x="778" y="70" width="3" height="9" fill="#000"/>
<rect x="779" y="71" width="1" height="7" fill="#3c3c3c"/>
<rect x="782" y="78" width="1" height="40" fill="#000"/>
<rect x="781" y="78" width="3" height="40" fill="#000"/>
<rect x="782" y="79" width="1" height="38" fill="#3c3c3c"/>
<rect x="786" y="117" width="1" height="25" fill="#000"/>
<rect x="785" y="117" width="3" height="13" fill="#000"/>
<rect x="786" y="118" width="1" height="11" fill="#3c3c3c"/>
<rect x="789" y="101" width="1" height="33" fill="#000"/>
<rect x="788" y="104" width="3" height="26" fill="#000"/>
<rect x="789" y="105" width="1" height="24" fill="#fff"/>
<rect x="793" y="104" width="1" height="43" fill="#000"/>
<rect x="792" y="104" width="3" height="35" fill="#000"/>
<rect x="793" y="105" width="1" height="33" fill="#3c3c3c"/>
<rect x="796" y="116" width="1" height="28" fill="#000"/>
<rect x="795" y="132" width="3" height="1" fill="#000"/>
<rect x="799" y="123" width="1" height="28" fill="#000"/>
<rect x="798" y="132" width="3" height="12" fill="#000"/>
<rect x="799" y="133" width="1" height="10" fill="#3c3c3c"/>
<rect x="803" y="116" width="1" height="28" fill="#000"/>
<rect x="802" y="117" width="3" height="27" fill="#000"/>
<rect x="803" y="118" width="1" height="25" fill="#fff"/>
<rect x="806" y="104" width="1" height="17" fill="#000"/>
<rect x="805" y="118" width="3" height="2" fill="#000"/>
<rect x="810" y="119" width="1" height="14" fill="#000"/>
<rect x="809" y="119" width="3" height="11" fill="#000"/>
<rect x="810" y="120" width="1" height="9" fill="#3c3c3c"/>
<rect x="813" y="117" width="1" height="14" fill="#000"/>
<rect x="812" y="125" width="3" height="5" fill="#000"/>
<rect x="813" y="126" width="1" height="3" fill="#fff"/>
<rect x="816" y="121" width="1" height="15" fill="#000"/>
<rect x="815" y="124" width="3" height="10" fill="#000"/>
<rect x="816" y="125" width="1" height="8" fill="#3c3c3c"/>
<rect x="820" y="122" width="1" height="15" fill="#000"/>
<rect x="819" y="124" width="3" height="10" fill="#000"/>
<rect x="820" y="125" width="1" height="8" fill="#fff"/>
<rect x="823" y="116" width="1" height="11" fill="#000"/>
<rect x="822" y="119" width="3" height="6" fill="#000"/>
<rect x="823" y="120" width="1" height="4" fill="#fff"/>
<rect x="827" y="105" width="1" height="15" fill="#000"/>
<rect x="826" y="108" width="3" height="12" fill="#000"/>
<rect x="827" y="109" width="1" height="10" fill="#fff"/>
<rect x="830" y="103" width="1" height="14" fill="#000"/>
<rect x="829" y="104" width="3" height="5" fill="#000"/>
<rect x="830" y="105" width="1" height="3" fill="#fff"/>
<rect x="834" y="102" width="1" height="9" fill="#000"/>
<rect x="833" y="104" width="3" height="1" fill="#000"/>
<rect x="837" y="104" width="1" height="16" fill="#000"/>
<rect x="836" y="104" width="3" height="10" fill="#000"/>
<rect x="837" y="105" width="1" height="8" fill="#3c3c3c"/>
<rect x="840" y="98" width="1" height="16" fill="#000"/>
<rect x="839" y="99" width="3" height="15" fill="#000"/>
<rect x="840" y="100" width="1" height="13" fill="#fff"/>
<rect x="844" y="83" width="1" height="17" fill="#000"/>
<rect x="843" y="91" width="3" height="9" fill="#000"/>
<rect x="844" y="92" width="1" height="7" fill="#fff"/>
<rect x="847" y="86" width="1" height="11" fill="#000"/>
<rect x="846" y="91" width="3" height="2" fill="#000"/>
<rect x="851" y="91" width="1" height="8" fill="#000"/>
<rect x="850" y="92" width="3" height="1" fill="#000"/>
<rect x="854" y="83" width="1" height="12" fill="#000"/>
<rect x="853" y="84" width="3" height="10" fill="#000"/>
<rect x="854" y="85" width="1" height="8" fill="#fff"/>
<rect x="857" y="84" width="1" height="27" fill="#000"/>
<rect x="856" y="84" width="3" height="20" fill="#000"/>
<rect x="857" y="85" width="1" height="18" fill="#3c3c3c"/>
<rect x="861" y="91" width="1" height="13" fill="#000"/>
<rect x="860" y="98" width="3" height="6" fill="#000"/>
<rect x="861" y="99" width="1" height="4" fill="#fff"/>
<rect x="864" y="94" width="1" height="34" fill="#000"/>
<rect x="863" y="98" width="3" height="23" fill="#000"/>
<rect x="864" y="99" width="1" height="21" fill="#3c3c3c"/>
<rect x="868" y="108" width="1" height="21" fill="#000"/>
<rect x="867" y="110" width="3" height="11" fill="#000"/>
<rect x="868" y="111" width="1" height="9" fill="#fff"/>
<rect x="871" y="109" width="1" height="32" fill="#000"/>
<rect x="870" y="109" width="3" height="25" fill="#000"/>
<rect x="871" y="110" width="1" height="23" fill="#3c3c3c"/>
<rect x="875" y="126" width="1" height="25" fill="#000"/>
<rect x="874" y="134" width="3" height="8" fill="#000"/>
<rect x="875" y="135" width="1" height="6" fill="#3c3c3c"/>
<rect x="878" y="141" width="1" height="22" fill="#000"/>
<rect x="877" y="141" width="3" height="5" fill="#000"/>
<rect x="878" y="142" width="1" height="3" fill="#3c3c3c"/>
<rect x="881" y="141" width="1" height="22" fill="#000"/>
<rect x="880" y="143" width="3" height="3" fill="#000"/>
<rect x="881" y="144" width="1" height="1" fill="#fff"/>
<rect x="885" y="143" width="1" height="27" fill="#000"/>
<rect x="884" y="143" width="3" height="24" fill="#000"/>
<rect x="885" y="144" width="1" height="22" fill="#3c3c3c"/>
<rect x="888" y="152" width="1" height="24" fill="#000"/>
<rect x="887" y="157" width="3" height="10" fill="#000"/>
<rect x="888" y="158" width="1" height="8" fill="#fff"/>
<rect x="892" y="129" width="1" height="31" fill="#000"/>
<rect x="891" y="138" width="3" height="19" fill="#000"/>
<rect x="892" y="139" width="1" height="17" fill="#fff"/>
<rect x="895" y="135" width="1" height="15" fill="#000"/>
<rect x="894" y="138" width="3" height="8" fill="#000"/>
<rect x="895" y="139" width="1" height="6" fill="#3c3c3c"/>
<rect x="898" y="142" width="1" height="16" fill="#000"/>
<rect x="897" y="145" width="3" height="9" fill="#000"/>
<rect x="898" y="146" width="1" height="7" fill="#3c3c3c"/>
<rect x="902" y="143" width="1" height="12" fill="#000"/>
<rect x="901" y="153" width="3" height="2" fill="#000"/>
<rect x="905" y="154" width="1" height="29" fill="#000"/>
<rect x="904" y="154" width="3" height="24" fill="#000"/>
<rect x="905" y="155" width="1" height="22" fill="#3c3c3c"/>
<rect x="909" y="167" width="1" height="16" fill="#000"/>
<rect x="908" y="177" width="3" height="5" fill="#000"/>
<rect x="909" y="178" width="1" height="3" fill="#3c3c3c"/>
<rect x="912" y="170" width="1" height="33" fill="#000"/>
<rect x="911" y="180" width="3" height="3" fill="#000"/>
<rect x="912" y="181" width="1" height="1" fill="#fff"/>
<rect x="915" y="179" width="1" height="25" fill="#000"/>
<rect x="914" y="179" width="3" height="25" fill="#000"/>
<rect x="915" y="180" width="1" height="23" fill="#3c3c3c"/>
<rect x="3" y="452" width="2" height="29" fill="#000"/>
<rect x="6" y="453" width="2" height="28" fill="#000"/>
<rect x="10" y="451" width="2" height="30" fill="#000"/>
<rect x="13" y="454" width="2" height="27" fill="#000"/>
<rect x="16" y="455" width="2" height="26" fill="#000"/>
<rect x="20" y="453" width="2" height="28" fill="#000"/>
<rect x="23" y="449" width="2" height="32" fill="#9a9a9a"/>
<rect x="27" y="456" width="2" height="25" fill="#000"/>
<rect x="30" y="457" width="2" height="24" fill="#000"/>
<rect x="33" y="456" width="2" height="25" fill="#000"/>
<rect x="37" y="453" width="2" height="28" fill="#000"/>
<rect x="40" y="455" width="2" height="26" fill="#9a9a9a"/>
<rect x="44" y="409" width="2" height="72" fill="#9a9a9a"/>
<rect x="47" y="457" width="2" height="24" fill="#9a9a9a"/>
<rect x="51" y="453" width="2" height="28" fill="#000"/>
<rect x="54" y="455" width="2" height="26" fill="#000"/>
<rect x="57" y="458" width="2" height="23" fill="#000"/>
<rect x="61" y="459" width="2" height="22" fill="#9a9a9a"/>
<rect x="64" y="448" width="2" height="33" fill="#9a9a9a"/>
<rect x="68" y="452" width="2" height="29" fill="#000"/>
<rect x="71" y="453" width="2" height="28" fill="#000"/>
<rect x="74" y="452" width="2" height="29" fill="#9a9a9a"/>
<rect x="78" y="455" width="2" height="26" fill="#000"/>
<rect x="81" y="455" width="2" height="26" fill="#9a9a9a"/>
<rect x="85" y="454" width="2" height="27" fill="#9a9a9a"/>
<rect x="88" y="451" width="2" height="30" fill="#9a9a9a"/>
<rect x="91" y="452" width="2" height="29" fill="#000"/>
<rect x="95" y="453" width="2" height="28" fill="#000"/>
<rect x="98" y="457" width="2" height="24" fill="#000"/>
<rect x="102" y="452" width="2" height="29" fill="#9a9a9a"/>
<rect x="105" y="450" width="2" height="31" fill="#000"/>
<rect x="109" y="450" width="2" height="31" fill="#000"/>
<rect x="112" y="440" width="2" height="41" fill="#000"/>
<rect x="115" y="452" width="2" height="29" fill="#9a9a9a"/>
<rect x="119" y="445" width="2" height="36" fill="#000"/>
<rect x="122" y="448" width="2" height="33" fill="#9a9a9a"/>
<rect x="126" y="448" width="2" height="33" fill="#000"/>
<rect x="129" y="450" width="2" height="31" fill="#000"/>
<rect x="132" y="429" width="2" height="52" fill="#000"/>
<rect x="136" y="455" width="2" height="26" fill="#000"/>
<rect x="139" y="449" width="2" height="32" fill="#9a9a9a"/>
<rect x="143" y="443" width="2" height="38" fill="#9a9a9a"/>
<rect x="146" y="441" width="2" height="40" fill="#9a9a9a"/>
<rect x="150" y="449" width="2" height="32" fill="#000"/>
<rect x="153" y="445" width="2" height="36" fill="#9a9a9a"/>
<rect x="156" y="441" width="2" height="40" fill="#000"/>
<rect x="160" y="432" width="2" height="49" fill="#9a9a9a"/>
<rect x="163" y="446" width="2" height="35" fill="#000"/>
<rect x="167" y="454" width="2" height="27" fill="#000"/>
<rect x="170" y="452" width="2" height="29" fill="#9a9a9a"/>
<rect x="173" y="449" width="2" height="32" fill="#000"/>
<rect x="177" y="454" width="2" height="27" fill="#000"/>
<rect x="180" y="446" width="2" height="35" fill="#000"/>
<rect x="184" y="451" width="2" height="30" fill="#9a9a9a"/>
<rect x="187" y="451" width="2" height="30" fill="#000"/>
<rect x="191" y="456" width="2" height="25" fill="#9a9a9a"/>
<rect x="194" y="454" width="2" height="27" fill="#000"/>
<rect x="197" y="457" width="2" height="24" fill="#000"/>
<rect x="201" y="453" width="2" height="28" fill="#9a9a9a"/>
<rect x="204" y="450" width="2" height="31" fill="#9a9a9a"/>
<rect x="208" y="456" width="2" height="25" fill="#9a9a9a"/>
<rect x="211" y="460" width="2" height="21" fill="#9a9a9a"/>
<rect x="214" y="452" width="2" height="29" fill="#000"/>
<rect x="218" y="447" width="2" height="34" fill="#000"/>
<rect x="221" y="445" width="2" height="36" fill="#9a9a9a"/>
<rect x="225" y="451" width="2" height="30" fill="#9a9a9a"/>
<rect x="228" y="449" width="2" height="32" fill="#000"/>
<rect x="232" y="446" width="2" height="35" fill="#9a9a9a"/>
<rect x="235" y="451" width="2" height="30" fill="#9a9a9a"/>
<rect x="238" y="446" width="2" height="35" fill="#9a9a9a"/>
<rect x="242" y="451" width="2" height="30" fill="#000"/>
<rect x="245" y="451" width="2" height="30" fill="#9a9a9a"/>
<rect x="249" y="442" width="2" height="39" fill="#000"/>
<rect x="252" y="447" width="2" height="34" fill="#9a9a9a"/>
<rect x="255" y="440" width="2" height="41" fill="#000"/>
<rect x="259" y="448" width="2" height="33" fill="#000"/>
<rect x="262" y="400" width="2" height="81" fill="#000"/>
<rect x="266" y="455" width="2" height="26" fill="#000"/>
<rect x="269" y="469" width="2" height="12" fill="#000"/>
<rect x="272" y="462" width="2" height="19" fill="#000"/>
<rect x="276" y="464" width="2" height="17" fill="#000"/>
<rect x="279" y="459" width="2" height="22" fill="#9a9a9a"/>
<rect x="283" y="455" width="2" height="26" fill="#000"/>
<rect x="286" y="455" width="2" height="26" fill="#9a9a9a"/>
<rect x="290" y="458" width="2" height="23" fill="#9a9a9a"/>
<rect x="293" y="451" width="2" height="30" fill="#9a9a9a"/>
<rect x="296" y="450" width="2" height="31" fill="#000"/>
<rect x="300" y="448" width="2" height="33" fill="#9a9a9a"/>
<rect x="303" y="451" width="2" height="30" fill="#9a9a9a"/>
<rect x="307" y="454" width="2" height="27" fill="#000"/>
<rect x="310" y="446" width="2" height="35" fill="#9a9a9a"/>
<rect x="313" y="453" width="2" height="28" fill="#000"/>
<rect x="317" y="450" width="2" height="31" fill="#9a9a9a"/>
<rect x="320" y="454" width="2" height="27" fill="#000"/>
<rect x="324" y="443" width="2" height="38" fill="#9a9a9a"/>
<rect x="327" y="448" width="2" height="33" fill="#000"/>
<rect x="331" y="453" width="2" height="28" fill="#000"/>
<rect x="334" y="448" width="2" height="33" fill="#9a9a9a"/>
<rect x="337" y="443" width="2" height="38" fill="#9a9a9a"/>
<rect x="341" y="451" width="2" height="30" fill="#9a9a9a"/>
<rect x="344" y="457" width="2" height="24" fill="#000"/>
<rect x="348" y="450" width="2" height="31" fill="#9a9a9a"/>
<rect x="351" y="451" width="2" height="30" fill="#000"/>
<rect x="354" y="443" width="2" height="38" fill="#9a9a9a"/>
<rect x="358" y="442" width="2" height="39" fill="#9a9a9a"/>
<rect x="361" y="444" width="2" height="37" fill="#000"/>
<rect x="365" y="446" width="2" height="35" fill="#9a9a9a"/>
<rect x="368" y="444" width="2" height="37" fill="#000"/>
<rect x="372" y="445" width="2" height="36" fill="#000"/>
<rect x="375" y="451" width="2" height="30" fill="#9a9a9a"/>
<rect x="378" y="450" width="2" height="31" fill="#000"/>
<rect x="382" y="452" width="2" height="29" fill="#9a9a9a"/>
<rect x="385" y="449" width="2" height="32" fill="#000"/>
<rect x="389" y="453" width="2" height="28" fill="#000"/>
<rect x="392" y="446" width="2" height="35" fill="#000"/>
<rect x="395" y="447" width="2" height="34" fill="#9a9a9a"/>
<rect x="399" y="448" width="2" height="33" fill="#000"/>
<rect x="402" y="444" width="2" height="37" fill="#9a9a9a"/>
<rect x="406" y="443" width="2" height="38" fill="#000"/>
<rect x="409" y="448" width="2" height="33" fill="#9a9a9a"/>
<rect x="412" y="443" width="2" height="38" fill="#9a9a9a"/>
<rect x="416" y="447" width="2" height="34" fill="#000"/>
<rect x="419" y="440" width="2" height="41" fill="#000"/>
<rect x="423" y="447" width="2" height="34" fill="#9a9a9a"/>
<rect x="426" y="443" width="2" height="38" fill="#000"/>
<rect x="430" y="452" width="2" height="29" fill="#9a9a9a"/>
<rect x="433" y="451" width="2" height="30" fill="#000"/>
<rect x="436" y="450" width="2" height="31" fill="#000"/>
<rect x="440" y="454" width="2" height="27" fill="#000"/>
<rect x="443" y="452" width="2" height="29" fill="#9a9a9a"/>
<rect x="447" y="450" width="2" height="31" fill="#000"/>
<rect x="450" y="450" width="2" height="31" fill="#9a9a9a"/>
<rect x="453" y="452" width="2" height="29" fill="#000"/>
<rect x="457" y="454" width="2" height="27" fill="#000"/>
<rect x="460" y="457" width="2" height="24" fill="#000"/>
<rect x="464" y="450" width="2" height="31" fill="#9a9a9a"/>
<rect x="467" y="454" width="2" height="27" fill="#000"/>
<rect x="471" y="385" width="2" height="96" fill="#000"/>
<rect x="474" y="449" width="2" height="32" fill="#9a9a9a"/>
<rect x="477" y="451" width="2" height="30" fill="#000"/>
<rect x="481" y="448" width="2" height="33" fill="#9a9a9a"/>
<rect x="484" y="448" width="2" height="33" fill="#000"/>
<rect x="488" y="453" width="2" height="28" fill="#000"/>
<rect x="491" y="448" width="2" height="33" fill="#000"/>
<rect x="494" y="449" width="2" height="32" fill="#000"/>
<rect x="498" y="452" width="2" height="29" fill="#000"/>
<rect x="501" y="445" width="2" height="36" fill="#000"/>
<rect x="505" y="446" width="2" height="35" fill="#9a9a9a"/>
<rect x="508" y="445" width="2" height="36" fill="#9a9a9a"/>
<rect x="512" y="449" width="2" height="32" fill="#000"/>
<rect x="515" y="451" width="2" height="30" fill="#000"/>
<rect x="518" y="448" width="2" height="33" fill="#9a9a9a"/>
<rect x="522" y="449" width="2" height="32" fill="#9a9a9a"/>
<rect x="525" y="450" width="2" height="31" fill="#000"/>
<rect x="529" y="447" width="2" height="34" fill="#000"/>
<rect x="532" y="448" width="2" height="33" fill="#000"/>
<rect x="535" y="438" width="2" height="43" fill="#000"/>
<rect x="539" y="449" width="2" height="32" fill="#000"/>
<rect x="542" y="451" width="2" height="30" fill="#9a9a9a"/>
<rect x="546" y="451" width="2" height="30" fill="#000"/>
<rect x="549" y="448" width="2" height="33" fill="#9a9a9a"/>
<rect x="553" y="448" width="2" height="33" fill="#9a9a9a"/>
<rect x="556" y="445" width="2" height="36" fill="#000"/>
<rect x="559" y="450" width="2" height="31" fill="#000"/>
<rect x="563" y="442" width="2" height="39" fill="#000"/>
<rect x="566" y="450" width="2" height="31" fill="#9a9a9a"/>
<rect x="570" y="452" width="2" height="29" fill="#000"/>
<rect x="573" y="452" width="2" height="29" fill="#000"/>
<rect x="576" y="448" width="2" height="33" fill="#000"/>
<rect x="580" y="445" width="2" height="36" fill="#000"/>
<rect x="583" y="447" width="2" height="34" fill="#9a9a9a"/>
<rect x="587" y="451" width="2" height="30" fill="#9a9a9a"/>
<rect x="590" y="453" width="2" height="28" fill="#000"/>
<rect x="593" y="453" width="2" height="28" fill="#000"/>
<rect x="597" y="453" width="2" height="28" fill="#000"/>
<rect x="600" y="446" width="2" height="35" fill="#9a9a9a"/>
<rect x="604" y="447" width="2" height="34" fill="#9a9a9a"/>
<rect x="607" y="457" width="2" height="24" fill="#000"/>
<rect x="611" y="458" width="2" height="23" fill="#9a9a9a"/>
<rect x="614" y="454" width="2" height="27" fill="#000"/>
<rect x="617" y="457" width="2" height="24" fill="#9a9a9a"/>
<rect x="621" y="457" width="2" height="24" fill="#9a9a9a"/>
<rect x="624" y="454" width="2" height="27" fill="#000"/>
<rect x="628" y="455" width="2" height="26" fill="#000"/>
<rect x="631" y="457" width="2" height="24" fill="#000"/>
<rect x="634" y="443" width="2" height="38" fill="#9a9a9a"/>
<rect x="638" y="456" width="2" height="25" fill="#9a9a9a"/>
<rect x="641" y="452" width="2" height="29" fill="#000"/>
<rect x="645" y="458" width="2" height="23" fill="#9a9a9a"/>
<rect x="648" y="455" width="2" height="26" fill="#000"/>
<rect x="652" y="455" width="2" height="26" fill="#000"/>
<rect x="655" y="459" width="2" height="22" fill="#000"/>
<rect x="658" y="457" width="2" height="24" fill="#9a9a9a"/>
<rect x="662" y="457" width="2" height="24" fill="#000"/>
<rect x="665" y="451" width="2" height="30" fill="#000"/>
<rect x="669" y="455" width="2" height="26" fill="#000"/>
<rect x="672" y="450" width="2" height="31" fill="#000"/>
<rect x="675" y="455" width="2" height="26" fill="#9a9a9a"/>
<rect x="679" y="452" width="2" height="29" fill="#000"/>
<rect x="682" y="453" width="2" height="28" fill="#000"/>
<rect x="686" y="405" width="2" height="76" fill="#000"/>
<rect x="689" y="454" width="2" height="27" fill="#000"/>
<rect x="693" y="450" width="2" height="31" fill="#9a9a9a"/>
<rect x="696" y="445" width="2" height="36" fill="#000"/>
<rect x="699" y="453" width="2" height="28" fill="#000"/>
<rect x="703" y="429" width="2" height="52" fill="#000"/>
<rect x="706" y="449" width="2" height="32" fill="#000"/>
<rect x="710" y="454" width="2" height="27" fill="#000"/>
<rect x="713" y="455" width="2" height="26" fill="#9a9a9a"/>
<rect x="716" y="460" width="2" height="21" fill="#000"/>
<rect x="720" y="455" width="2" height="26" fill="#9a9a9a"/>
<rect x="723" y="451" width="2" height="30" fill="#9a9a9a"/>
<rect x="727" y="459" width="2" height="22" fill="#000"/>
<rect x="730" y="455" width="2" height="26" fill="#9a9a9a"/>
<rect x="733" y="456" width="2" height="25" fill="#9a9a9a"/>
<rect x="737" y="451" width="2" height="30" fill="#000"/>
<rect x="740" y="448" width="2" height="33" fill="#9a9a9a"/>
<rect x="744" y="454" width="2" height="27" fill="#000"/>
<rect x="747" y="452" width="2" height="29" fill="#9a9a9a"/>
<rect x="751" y="452" width="2" height="29" fill="#000"/>
<rect x="754" y="459" width="2" height="22" fill="#000"/>
<rect x="757" y="455" width="2" height="26" fill="#000"/>
<rect x="761" y="457" width="2" height="24" fill="#000"/>
<rect x="764" y="454" width="2" height="27" fill="#000"/>
<rect x="768" y="457" width="2" height="24" fill="#9a9a9a"/>
<rect x="771" y="455" width="2" height="26" fill="#9a9a9a"/>
<rect x="774" y="456" width="2" height="25" fill="#9a9a9a"/>
<rect x="778" y="452" width="2" height="29" fill="#9a9a9a"/>
<rect x="781" y="440" width="2" height="41" fill="#9a9a9a"/>
<rect x="785" y="445" width="2" height="36" fill="#9a9a9a"/>
<rect x="788" y="447" width="2" height="34" fill="#000"/>
<rect x="792" y="444" width="2" height="37" fill="#9a9a9a"/>
<rect x="795" y="449" width="2" height="32" fill="#000"/>
<rect x="798" y="448" width="2" height="33" fill="#9a9a9a"/>
<rect x="802" y="453" width="2" height="28" fill="#000"/>
<rect x="805" y="449" width="2" height="32" fill="#9a9a9a"/>
<rect x="809" y="455" width="2" height="26" fill="#9a9a9a"/>
<rect x="812" y="457" width="2" height="24" fill="#000"/>
<rect x="815" y="452" width="2" height="29" fill="#9a9a9a"/>
<rect x="819" y="441" width="2" height="40" fill="#000"/>
<rect x="822" y="443" width="2" height="38" fill="#000"/>
<rect x="826" y="454" width="2" height="27" fill="#000"/>
<rect x="829" y="456" width="2" height="25" fill="#000"/>
<rect x="833" y="458" width="2" height="23" fill="#000"/>
<rect x="836" y="459" width="2" height="22" fill="#9a9a9a"/>
<rect x="839" y="460" width="2" height="21" fill="#000"/>
<rect x="843" y="458" width="2" height="23" fill="#000"/>
<rect x="846" y="458" width="2" height="23" fill="#9a9a9a"/>
<rect x="850" y="460" width="2" height="21" fill="#9a9a9a"/>
<rect x="853" y="455" width="2" height="26" fill="#000"/>
<rect x="856" y="453" width="2" height="28" fill="#9a9a9a"/>
<rect x="860" y="455" width="2" height="26" fill="#000"/>
<rect x="863" y="449" width="2" height="32" fill="#9a9a9a"/>
<rect x="867" y="453" width="2" height="28" fill="#000"/>
<rect x="870" y="453" width="2" height="28" fill="#9a9a9a"/>
<rect x="874" y="452" width="2" height="29" fill="#9a9a9a"/>
<rect x="877" y="451" width="2" height="30" fill="#9a9a9a"/>
<rect x="880" y="450" width="2" height="31" fill="#000"/>
<rect x="884" y="451" width="2" height="30" fill="#9a9a9a"/>
<rect x="887" y="453" width="2" height="28" fill="#000"/>
<rect x="891" y="452" width="2" height="29" fill="#000"/>
<rect x="894" y="452" width="2" height="29" fill="#9a9a9a"/>
<rect x="897" y="450" width="2" height="31" fill="#9a9a9a"/>
<rect x="901" y="407" width="2" height="74" fill="#9a9a9a"/>
<rect x="904" y="444" width="2" height="37" fill="#9a9a9a"/>
<rect x="908" y="448" width="2" height="33" fill="#9a9a9a"/>
<rect x="911" y="441" width="2" height="40" fill="#000"/>
<rect x="914" y="446" width="2" height="35" fill="#9a9a9a"/>
<rect x="1" y="48" width="963" height="2" fill="#00009c"/>
<rect x="1" y="89" width="963" height="2" fill="#00009c"/>
<rect x="1" y="133" width="963" height="2" fill="#00009c"/>
<rect x="1" y="169" width="963" height="2" fill="#00009c"/>
<rect x="1" y="246" width="963" height="2" fill="#00009c"/>
<rect x="1" y="302" width="963" height="2" fill="#00009c"/>
<rect x="1" y="350" width="963" height="2" fill="#00009c"/>
</g>
<line x1="370.5" y1="351.5" x2="793" y2="47.9" stroke="#058205" stroke-width="2" stroke-linecap="round"/>
<defs><linearGradient id="ob" gradientUnits="userSpaceOnUse" x1="0" y1="501" x2="0" y2="516"><stop offset="0" stop-color="#bd7272"/><stop offset="1" stop-color="#efd0c8"/></linearGradient><clipPath id="c70"><rect x="0" y="485" width="964" height="30.5"/></clipPath><clipPath id="c30"><rect x="0" y="549.5" width="964" height="29"/></clipPath></defs>
<path clip-path="url(#c70)" d="M1.0 515.5 L1.0 531.5 L4.5 529.5 L7.5 527.5 L11.5 527.5 L14.5 523.7 L17.5 523.5 L21.5 520.5 L24.5 523.5 L28.5 523.5 L31.5 523.5 L34.5 521.2 L38.5 516.0 L41.5 518.0 L45.5 524.0 L48.5 527.3 L52.5 526.5 L55.5 526.3 L58.5 525.5 L62.5 528.5 L65.5 533.5 L69.5 529.5 L72.5 527.2 L75.5 533.5 L79.5 527.2 L82.5 532.0 L86.5 538.0 L89.5 540.5 L92.5 530.0 L96.5 526.0 L99.5 523.2 L103.5 525.5 L106.5 520.5 L110.5 519.2 L113.5 516.5 L116.5 519.5 L120.5 517.5 L123.5 525.5 L127.5 523.8 L130.5 522.5 L133.5 521.2 L137.5 519.5 L140.5 523.5 L144.5 524.5 L147.5 527.3 L151.5 521.5 L154.5 525.2 L157.5 524.3 L161.5 532.5 L164.5 526.5 L168.5 525.3 L171.5 529.5 L174.5 527.0 L178.5 524.5 L181.5 522.5 L185.5 526.3 L188.5 526.8 L192.5 528.5 L195.5 524.0 L198.5 522.5 L202.5 527.0 L205.5 528.7 L209.5 532.2 L212.5 533.5 L215.5 533.5 L219.5 531.5 L222.5 533.8 L226.5 536.5 L229.5 533.5 L233.5 533.3 L236.5 535.5 L239.5 543.5 L243.5 539.5 L246.5 541.3 L250.5 535.5 L253.5 537.3 L256.5 529.5 L260.5 528.3 L263.5 527.3 L267.5 527.2 L270.5 524.5 L273.5 520.5 L277.5 518.5 L280.5 524.3 L284.5 520.5 L287.5 528.3 L291.5 530.5 L294.5 530.3 L297.5 526.5 L301.5 530.5 L304.5 532.3 L308.5 531.5 L311.5 540.5 L314.5 534.5 L318.5 535.3 L321.5 534.5 L325.5 535.3 L328.5 532.0 L332.5 530.3 L335.5 536.5 L338.5 544.3 L342.5 545.5 L345.5 541.3 L349.5 543.3 L352.5 542.5 L355.5 546.5 L359.5 551.5 L362.5 547.3 L366.5 549.0 L369.5 542.5 L373.5 537.5 L376.5 539.3 L379.5 533.3 L383.5 534.5 L386.5 532.2 L390.5 527.2 L393.5 526.3 L396.5 526.2 L400.5 524.3 L403.5 527.3 L407.5 522.3 L410.5 522.3 L413.5 525.3 L417.5 525.5 L420.5 523.5 L424.5 526.5 L427.5 522.3 L431.5 527.3 L434.5 525.0 L437.5 524.0 L441.5 523.3 L444.5 530.2 L448.5 530.3 L451.5 534.5 L454.5 533.3 L458.5 530.5 L461.5 526.5 L465.5 531.5 L468.5 528.5 L472.5 527.3 L475.5 528.3 L478.5 525.5 L482.5 527.5 L485.5 523.2 L489.5 518.5 L492.5 518.5 L495.5 516.3 L499.5 515.3 L502.5 514.2 L506.5 517.5 L509.5 527.3 L513.5 523.3 L516.5 521.5 L519.5 529.3 L523.5 530.5 L526.5 525.0 L530.5 520.5 L533.5 517.2 L536.5 515.0 L540.5 513.3 L543.5 514.3 L547.5 513.3 L550.5 514.3 L554.5 517.3 L557.5 517.3 L560.5 515.5 L564.5 515.3 L567.5 518.5 L571.5 517.5 L574.5 515.8 L577.5 514.5 L581.5 512.5 L584.5 523.3 L588.5 524.5 L591.5 522.2 L594.5 520.3 L598.5 520.3 L601.5 530.5 L605.5 531.5 L608.5 529.3 L612.5 531.3 L615.5 525.3 L618.5 526.5 L622.5 527.5 L625.5 525.5 L629.5 525.3 L632.5 520.3 L635.5 521.7 L639.5 523.5 L642.5 521.5 L646.5 522.5 L649.5 519.5 L653.5 515.5 L656.5 514.3 L659.5 516.5 L663.5 514.3 L666.5 511.8 L670.5 509.0 L673.5 507.3 L676.5 509.5 L680.5 506.5 L683.5 504.3 L687.5 502.5 L690.5 502.3 L694.5 520.5 L697.5 518.5 L700.5 517.3 L704.5 517.3 L707.5 517.2 L711.5 516.2 L714.5 518.5 L717.5 516.3 L721.5 522.0 L724.5 523.5 L728.5 520.3 L731.5 528.5 L734.5 533.5 L738.5 528.5 L741.5 531.3 L745.5 523.5 L748.5 532.5 L752.5 530.7 L755.5 530.3 L758.5 526.5 L762.5 524.5 L765.5 523.3 L769.5 528.3 L772.5 529.5 L775.5 531.7 L779.5 534.5 L782.5 544.3 L786.5 547.5 L789.5 538.3 L793.5 545.5 L796.5 543.3 L799.5 545.5 L803.5 537.3 L806.5 538.5 L810.5 540.5 L813.5 538.3 L816.5 540.5 L820.5 538.5 L823.5 536.5 L827.5 533.5 L830.5 532.3 L834.5 532.3 L837.5 534.5 L840.5 530.0 L844.5 528.5 L847.5 528.5 L851.5 528.3 L854.5 525.5 L857.5 533.3 L861.5 531.3 L864.5 538.3 L868.5 534.5 L871.5 540.3 L875.5 542.3 L878.5 543.5 L881.5 542.3 L885.5 547.5 L888.5 542.3 L892.5 537.5 L895.5 539.5 L898.5 541.3 L902.5 541.3 L905.5 546.3 L909.5 547.5 L912.5 546.3 L915.5 550.3 L915.5 515.5 Z" fill="url(#ob)"/>
<path clip-path="url(#c30)" d="M1.0 549.5 L1.0 531.5 L4.5 529.5 L7.5 527.5 L11.5 527.5 L14.5 523.7 L17.5 523.5 L21.5 520.5 L24.5 523.5 L28.5 523.5 L31.5 523.5 L34.5 521.2 L38.5 516.0 L41.5 518.0 L45.5 524.0 L48.5 527.3 L52.5 526.5 L55.5 526.3 L58.5 525.5 L62.5 528.5 L65.5 533.5 L69.5 529.5 L72.5 527.2 L75.5 533.5 L79.5 527.2 L82.5 532.0 L86.5 538.0 L89.5 540.5 L92.5 530.0 L96.5 526.0 L99.5 523.2 L103.5 525.5 L106.5 520.5 L110.5 519.2 L113.5 516.5 L116.5 519.5 L120.5 517.5 L123.5 525.5 L127.5 523.8 L130.5 522.5 L133.5 521.2 L137.5 519.5 L140.5 523.5 L144.5 524.5 L147.5 527.3 L151.5 521.5 L154.5 525.2 L157.5 524.3 L161.5 532.5 L164.5 526.5 L168.5 525.3 L171.5 529.5 L174.5 527.0 L178.5 524.5 L181.5 522.5 L185.5 526.3 L188.5 526.8 L192.5 528.5 L195.5 524.0 L198.5 522.5 L202.5 527.0 L205.5 528.7 L209.5 532.2 L212.5 533.5 L215.5 533.5 L219.5 531.5 L222.5 533.8 L226.5 536.5 L229.5 533.5 L233.5 533.3 L236.5 535.5 L239.5 543.5 L243.5 539.5 L246.5 541.3 L250.5 535.5 L253.5 537.3 L256.5 529.5 L260.5 528.3 L263.5 527.3 L267.5 527.2 L270.5 524.5 L273.5 520.5 L277.5 518.5 L280.5 524.3 L284.5 520.5 L287.5 528.3 L291.5 530.5 L294.5 530.3 L297.5 526.5 L301.5 530.5 L304.5 532.3 L308.5 531.5 L311.5 540.5 L314.5 534.5 L318.5 535.3 L321.5 534.5 L325.5 535.3 L328.5 532.0 L332.5 530.3 L335.5 536.5 L338.5 544.3 L342.5 545.5 L345.5 541.3 L349.5 543.3 L352.5 542.5 L355.5 546.5 L359.5 551.5 L362.5 547.3 L366.5 549.0 L369.5 542.5 L373.5 537.5 L376.5 539.3 L379.5 533.3 L383.5 534.5 L386.5 532.2 L390.5 527.2 L393.5 526.3 L396.5 526.2 L400.5 524.3 L403.5 527.3 L407.5 522.3 L410.5 522.3 L413.5 525.3 L417.5 525.5 L420.5 523.5 L424.5 526.5 L427.5 522.3 L431.5 527.3 L434.5 525.0 L437.5 524.0 L441.5 523.3 L444.5 530.2 L448.5 530.3 L451.5 534.5 L454.5 533.3 L458.5 530.5 L461.5 526.5 L465.5 531.5 L468.5 528.5 L472.5 527.3 L475.5 528.3 L478.5 525.5 L482.5 527.5 L485.5 523.2 L489.5 518.5 L492.5 518.5 L495.5 516.3 L499.5 515.3 L502.5 514.2 L506.5 517.5 L509.5 527.3 L513.5 523.3 L516.5 521.5 L519.5 529.3 L523.5 530.5 L526.5 525.0 L530.5 520.5 L533.5 517.2 L536.5 515.0 L540.5 513.3 L543.5 514.3 L547.5 513.3 L550.5 514.3 L554.5 517.3 L557.5 517.3 L560.5 515.5 L564.5 515.3 L567.5 518.5 L571.5 517.5 L574.5 515.8 L577.5 514.5 L581.5 512.5 L584.5 523.3 L588.5 524.5 L591.5 522.2 L594.5 520.3 L598.5 520.3 L601.5 530.5 L605.5 531.5 L608.5 529.3 L612.5 531.3 L615.5 525.3 L618.5 526.5 L622.5 527.5 L625.5 525.5 L629.5 525.3 L632.5 520.3 L635.5 521.7 L639.5 523.5 L642.5 521.5 L646.5 522.5 L649.5 519.5 L653.5 515.5 L656.5 514.3 L659.5 516.5 L663.5 514.3 L666.5 511.8 L670.5 509.0 L673.5 507.3 L676.5 509.5 L680.5 506.5 L683.5 504.3 L687.5 502.5 L690.5 502.3 L694.5 520.5 L697.5 518.5 L700.5 517.3 L704.5 517.3 L707.5 517.2 L711.5 516.2 L714.5 518.5 L717.5 516.3 L721.5 522.0 L724.5 523.5 L728.5 520.3 L731.5 528.5 L734.5 533.5 L738.5 528.5 L741.5 531.3 L745.5 523.5 L748.5 532.5 L752.5 530.7 L755.5 530.3 L758.5 526.5 L762.5 524.5 L765.5 523.3 L769.5 528.3 L772.5 529.5 L775.5 531.7 L779.5 534.5 L782.5 544.3 L786.5 547.5 L789.5 538.3 L793.5 545.5 L796.5 543.3 L799.5 545.5 L803.5 537.3 L806.5 538.5 L810.5 540.5 L813.5 538.3 L816.5 540.5 L820.5 538.5 L823.5 536.5 L827.5 533.5 L830.5 532.3 L834.5 532.3 L837.5 534.5 L840.5 530.0 L844.5 528.5 L847.5 528.5 L851.5 528.3 L854.5 525.5 L857.5 533.3 L861.5 531.3 L864.5 538.3 L868.5 534.5 L871.5 540.3 L875.5 542.3 L878.5 543.5 L881.5 542.3 L885.5 547.5 L888.5 542.3 L892.5 537.5 L895.5 539.5 L898.5 541.3 L902.5 541.3 L905.5 546.3 L909.5 547.5 L912.5 546.3 L915.5 550.3 L915.5 549.5 Z" fill="#2a4a2a"/>
<polyline fill="none" stroke="#000" stroke-width="1.15" stroke-linejoin="round" points="1.0,531.5 4.5,529.5 7.5,527.5 11.5,527.5 14.5,523.7 17.5,523.5 21.5,520.5 24.5,523.5 28.5,523.5 31.5,523.5 34.5,521.2 38.5,516.0 41.5,518.0 45.5,524.0 48.5,527.3 52.5,526.5 55.5,526.3 58.5,525.5 62.5,528.5 65.5,533.5 69.5,529.5 72.5,527.2 75.5,533.5 79.5,527.2 82.5,532.0 86.5,538.0 89.5,540.5 92.5,530.0 96.5,526.0 99.5,523.2 103.5,525.5 106.5,520.5 110.5,519.2 113.5,516.5 116.5,519.5 120.5,517.5 123.5,525.5 127.5,523.8 130.5,522.5 133.5,521.2 137.5,519.5 140.5,523.5 144.5,524.5 147.5,527.3 151.5,521.5 154.5,525.2 157.5,524.3 161.5,532.5 164.5,526.5 168.5,525.3 171.5,529.5 174.5,527.0 178.5,524.5 181.5,522.5 185.5,526.3 188.5,526.8 192.5,528.5 195.5,524.0 198.5,522.5 202.5,527.0 205.5,528.7 209.5,532.2 212.5,533.5 215.5,533.5 219.5,531.5 222.5,533.8 226.5,536.5 229.5,533.5 233.5,533.3 236.5,535.5 239.5,543.5 243.5,539.5 246.5,541.3 250.5,535.5 253.5,537.3 256.5,529.5 260.5,528.3 263.5,527.3 267.5,527.2 270.5,524.5 273.5,520.5 277.5,518.5 280.5,524.3 284.5,520.5 287.5,528.3 291.5,530.5 294.5,530.3 297.5,526.5 301.5,530.5 304.5,532.3 308.5,531.5 311.5,540.5 314.5,534.5 318.5,535.3 321.5,534.5 325.5,535.3 328.5,532.0 332.5,530.3 335.5,536.5 338.5,544.3 342.5,545.5 345.5,541.3 349.5,543.3 352.5,542.5 355.5,546.5 359.5,551.5 362.5,547.3 366.5,549.0 369.5,542.5 373.5,537.5 376.5,539.3 379.5,533.3 383.5,534.5 386.5,532.2 390.5,527.2 393.5,526.3 396.5,526.2 400.5,524.3 403.5,527.3 407.5,522.3 410.5,522.3 413.5,525.3 417.5,525.5 420.5,523.5 424.5,526.5 427.5,522.3 431.5,527.3 434.5,525.0 437.5,524.0 441.5,523.3 444.5,530.2 448.5,530.3 451.5,534.5 454.5,533.3 458.5,530.5 461.5,526.5 465.5,531.5 468.5,528.5 472.5,527.3 475.5,528.3 478.5,525.5 482.5,527.5 485.5,523.2 489.5,518.5 492.5,518.5 495.5,516.3 499.5,515.3 502.5,514.2 506.5,517.5 509.5,527.3 513.5,523.3 516.5,521.5 519.5,529.3 523.5,530.5 526.5,525.0 530.5,520.5 533.5,517.2 536.5,515.0 540.5,513.3 543.5,514.3 547.5,513.3 550.5,514.3 554.5,517.3 557.5,517.3 560.5,515.5 564.5,515.3 567.5,518.5 571.5,517.5 574.5,515.8 577.5,514.5 581.5,512.5 584.5,523.3 588.5,524.5 591.5,522.2 594.5,520.3 598.5,520.3 601.5,530.5 605.5,531.5 608.5,529.3 612.5,531.3 615.5,525.3 618.5,526.5 622.5,527.5 625.5,525.5 629.5,525.3 632.5,520.3 635.5,521.7 639.5,523.5 642.5,521.5 646.5,522.5 649.5,519.5 653.5,515.5 656.5,514.3 659.5,516.5 663.5,514.3 666.5,511.8 670.5,509.0 673.5,507.3 676.5,509.5 680.5,506.5 683.5,504.3 687.5,502.5 690.5,502.3 694.5,520.5 697.5,518.5 700.5,517.3 704.5,517.3 707.5,517.2 711.5,516.2 714.5,518.5 717.5,516.3 721.5,522.0 724.5,523.5 728.5,520.3 731.5,528.5 734.5,533.5 738.5,528.5 741.5,531.3 745.5,523.5 748.5,532.5 752.5,530.7 755.5,530.3 758.5,526.5 762.5,524.5 765.5,523.3 769.5,528.3 772.5,529.5 775.5,531.7 779.5,534.5 782.5,544.3 786.5,547.5 789.5,538.3 793.5,545.5 796.5,543.3 799.5,545.5 803.5,537.3 806.5,538.5 810.5,540.5 813.5,538.3 816.5,540.5 820.5,538.5 823.5,536.5 827.5,533.5 830.5,532.3 834.5,532.3 837.5,534.5 840.5,530.0 844.5,528.5 847.5,528.5 851.5,528.3 854.5,525.5 857.5,533.3 861.5,531.3 864.5,538.3 868.5,534.5 871.5,540.3 875.5,542.3 878.5,543.5 881.5,542.3 885.5,547.5 888.5,542.3 892.5,537.5 895.5,539.5 898.5,541.3 902.5,541.3 905.5,546.3 909.5,547.5 912.5,546.3 915.5,550.3"/>
<g shape-rendering="crispEdges">
<rect x="1" y="515" width="963" height="1" fill="#3636dc"/>
<rect x="1" y="549" width="963" height="1" fill="#3636dc"/>
</g>
<g shape-rendering="crispEdges">
<rect x="0" y="0" width="1024" height="1" fill="#a8a8a8"/>
<rect x="0" y="599" width="1024" height="1" fill="#a8a8a8"/>
<rect x="0" y="0" width="1" height="600" fill="#a8a8a8"/>
<rect x="1023" y="0" width="1" height="600" fill="#a8a8a8"/>
<rect x="0" y="20" width="1023" height="1" fill="#b4b4b4"/>
<rect x="0" y="376" width="965" height="1" fill="#a8a8a8"/>
<rect x="0" y="379" width="965" height="1" fill="#a8a8a8"/>
<rect x="0" y="481" width="965" height="1" fill="#a8a8a8"/>
<rect x="0" y="484" width="965" height="1" fill="#a8a8a8"/>
<rect x="0" y="579" width="965" height="1" fill="#a8a8a8"/>
<rect x="964" y="21" width="1" height="356" fill="#a8a8a8"/>
<rect x="964" y="379" width="1" height="103" fill="#a8a8a8"/>
<rect x="964" y="484" width="1" height="96" fill="#a8a8a8"/>
<rect x="965" y="374" width="4" height="1" fill="#a8a8a8"/>
<rect x="965" y="355" width="2" height="1" fill="#a8a8a8"/>
<rect x="965" y="336" width="4" height="1" fill="#a8a8a8"/>
<rect x="965" y="317" width="2" height="1" fill="#a8a8a8"/>
<rect x="965" y="298" width="4" height="1" fill="#a8a8a8"/>
<rect x="965" y="279" width="2" height="1" fill="#a8a8a8"/>
<rect x="965" y="260" width="4" height="1" fill="#a8a8a8"/>
<rect x="965" y="241" width="2" height="1" fill="#a8a8a8"/>
<rect x="965" y="222" width="4" height="1" fill="#a8a8a8"/>
<rect x="965" y="203" width="2" height="1" fill="#a8a8a8"/>
<rect x="965" y="184" width="4" height="1" fill="#a8a8a8"/>
<rect x="965" y="165" width="2" height="1" fill="#a8a8a8"/>
<rect x="965" y="147" width="4" height="1" fill="#a8a8a8"/>
<rect x="965" y="128" width="2" height="1" fill="#a8a8a8"/>
<rect x="965" y="109" width="4" height="1" fill="#a8a8a8"/>
<rect x="965" y="90" width="2" height="1" fill="#a8a8a8"/>
<rect x="965" y="71" width="4" height="1" fill="#a8a8a8"/>
<rect x="965" y="52" width="2" height="1" fill="#a8a8a8"/>
<rect x="965" y="33" width="4" height="1" fill="#a8a8a8"/>
<rect x="965" y="392" width="4" height="1" fill="#a8a8a8"/>
<rect x="965" y="422" width="4" height="1" fill="#a8a8a8"/>
<rect x="965" y="452" width="4" height="1" fill="#a8a8a8"/>
<rect x="965" y="446" width="4" height="1" fill="#a8a8a8"/>
<rect x="965" y="489" width="4" height="1" fill="#a8a8a8"/>
<rect x="965" y="498" width="2" height="1" fill="#a8a8a8"/>
<rect x="965" y="506" width="4" height="1" fill="#a8a8a8"/>
<rect x="965" y="515" width="2" height="1" fill="#a8a8a8"/>
<rect x="965" y="523" width="4" height="1" fill="#a8a8a8"/>
<rect x="965" y="532" width="2" height="1" fill="#a8a8a8"/>
<rect x="965" y="541" width="4" height="1" fill="#a8a8a8"/>
<rect x="965" y="549" width="2" height="1" fill="#a8a8a8"/>
<rect x="965" y="558" width="4" height="1" fill="#a8a8a8"/>
<rect x="965" y="566" width="2" height="1" fill="#a8a8a8"/>
<rect x="965" y="575" width="4" height="1" fill="#a8a8a8"/>
<rect x="965" y="203" width="4" height="1" fill="#000"/>
<rect x="965" y="550" width="4" height="1" fill="#000"/>
<rect x="69" y="580" width="1" height="4" fill="#a8a8a8"/>
<rect x="147" y="580" width="1" height="4" fill="#a8a8a8"/>
<rect x="215" y="580" width="1" height="4" fill="#a8a8a8"/>
<rect x="287" y="580" width="1" height="4" fill="#a8a8a8"/>
<rect x="359" y="580" width="1" height="4" fill="#a8a8a8"/>
<rect x="424" y="580" width="1" height="4" fill="#a8a8a8"/>
<rect x="495" y="580" width="1" height="4" fill="#a8a8a8"/>
<rect x="567" y="580" width="1" height="4" fill="#a8a8a8"/>
<rect x="639" y="580" width="1" height="4" fill="#a8a8a8"/>
<rect x="711" y="580" width="1" height="4" fill="#a8a8a8"/>
<rect x="786" y="580" width="1" height="4" fill="#a8a8a8"/>
<rect x="857" y="580" width="1" height="4" fill="#a8a8a8"/>
<rect x="929" y="580" width="1" height="4" fill="#a8a8a8"/>
</g>
<g shape-rendering="crispEdges"><rect x="6" y="8" width="1" height="11" fill="#b02a2a"/><rect x="3" y="10" width="7" height="7" fill="#b02a2a"/><rect x="4" y="11" width="5" height="5" fill="#f07878"/><rect x="14" y="3" width="1" height="16" fill="#169a16"/><rect x="11" y="6" width="7" height="10" fill="#169a16"/><rect x="12" y="7" width="5" height="8" fill="#66e066"/></g>
</svg>
<div class="t b" style="top:5px;left:23px;letter-spacing:0.12px;">DJ US OIL &amp; GAS</div>
<div class="t b" style="top:5px;left:124px;letter-spacing:0.2px;">-1.57% (770.45)</div>
<div class="t b" style="top:5px;left:226px;">Daily</div>
<div class="t b" style="top:5px;left:263px;letter-spacing:0.2px;">25-Sep-2014</div>
<div class="t b" style="top:5px;left:721px;width:300px;text-align:right;letter-spacing:0.05px;">www.ProRealTime.com</div>
<div class="lab" style="left:1px;top:21px;width:26px;height:13px;color:#3c5a14;letter-spacing:-0.2px">Price</div>
<div class="lab" style="left:1px;top:380px;width:37px;height:13px;color:#9a9aa6;letter-spacing:-0.35px">Volume</div>
<div class="lab" style="left:1px;top:485px;width:43px;height:13px;color:#000;letter-spacing:-0.1px">RSI (14)</div>
<div class="t " style="top:363px;left:3px;color:#2f5a0a;letter-spacing:-0.25px;">© ProRealTime.com</div>
<div class="t " style="top:363px;left:970px;">680</div>
<div class="t B" style="top:328px;left:970px;">700</div>
<div class="t " style="top:291px;left:970px;">720</div>
<div class="t " style="top:253px;left:970px;">740</div>
<div class="t " style="top:215px;left:970px;">760</div>
<div class="t " style="top:177px;left:970px;">780</div>
<div class="t B" style="top:139px;left:970px;">800</div>
<div class="t " style="top:102px;left:970px;">820</div>
<div class="t " style="top:64px;left:970px;">840</div>
<div class="t " style="top:26px;left:970px;">860</div>
<div class="t " style="top:385px;left:970px;">150M</div>
<div class="t " style="top:415px;left:970px;">100M</div>
<div class="t " style="top:445px;left:970px;">50M</div>
<div class="box" style="left:969px;top:438px;width:31px;height:14px;color:#9a9aa6;background:linear-gradient(#fff,#ececec)">59.1M</div>
<div class="t B" style="top:483px;left:970px;">100</div>
<div class="t " style="top:499px;left:970px;">80</div>
<div class="t " style="top:516px;left:970px;">60</div>
<div class="t " style="top:534px;left:970px;">40</div>
<div class="t " style="top:551px;left:970px;">20</div>
<div class="t B" style="top:565px;left:970px;">0</div>
<div class="box" style="left:969px;top:542px;width:35px;height:14px;background:linear-gradient(#fff,#ececec)">28.401</div>
<div class="box" style="left:969px;top:195px;width:35px;height:14px;background:linear-gradient(#ffe61a,#f2bd00)">770.45</div>
<div class="t " style="top:585px;left:-31px;width:200px;text-align:center;letter-spacing:-0.2px;">Oct</div>
<div class="t " style="top:585px;left:47px;width:200px;text-align:center;letter-spacing:-0.2px;">Nov</div>
<div class="t " style="top:585px;left:115px;width:200px;text-align:center;letter-spacing:-0.2px;">Dec</div>
<div class="t B" style="top:584px;left:187px;width:200px;text-align:center;letter-spacing:0;">2014</div>
<div class="t " style="top:585px;left:259px;width:200px;text-align:center;letter-spacing:-0.2px;">Feb</div>
<div class="t " style="top:585px;left:324px;width:200px;text-align:center;letter-spacing:-0.2px;">Mar</div>
<div class="t " style="top:585px;left:395px;width:200px;text-align:center;letter-spacing:-0.2px;">Apr</div>
<div class="t " style="top:585px;left:467px;width:200px;text-align:center;letter-spacing:-0.2px;">May</div>
<div class="t " style="top:585px;left:539px;width:200px;text-align:center;letter-spacing:-0.2px;">Jun</div>
<div class="t " style="top:585px;left:611px;width:200px;text-align:center;letter-spacing:-0.2px;">Jul</div>
<div class="t " style="top:585px;left:686px;width:200px;text-align:center;letter-spacing:-0.2px;">Aug</div>
<div class="t " style="top:585px;left:757px;width:200px;text-align:center;letter-spacing:-0.2px;">Sep</div>
<div class="t " style="top:585px;left:829px;width:200px;text-align:center;letter-spacing:-0.2px;">Oct</div>
</body></html>
